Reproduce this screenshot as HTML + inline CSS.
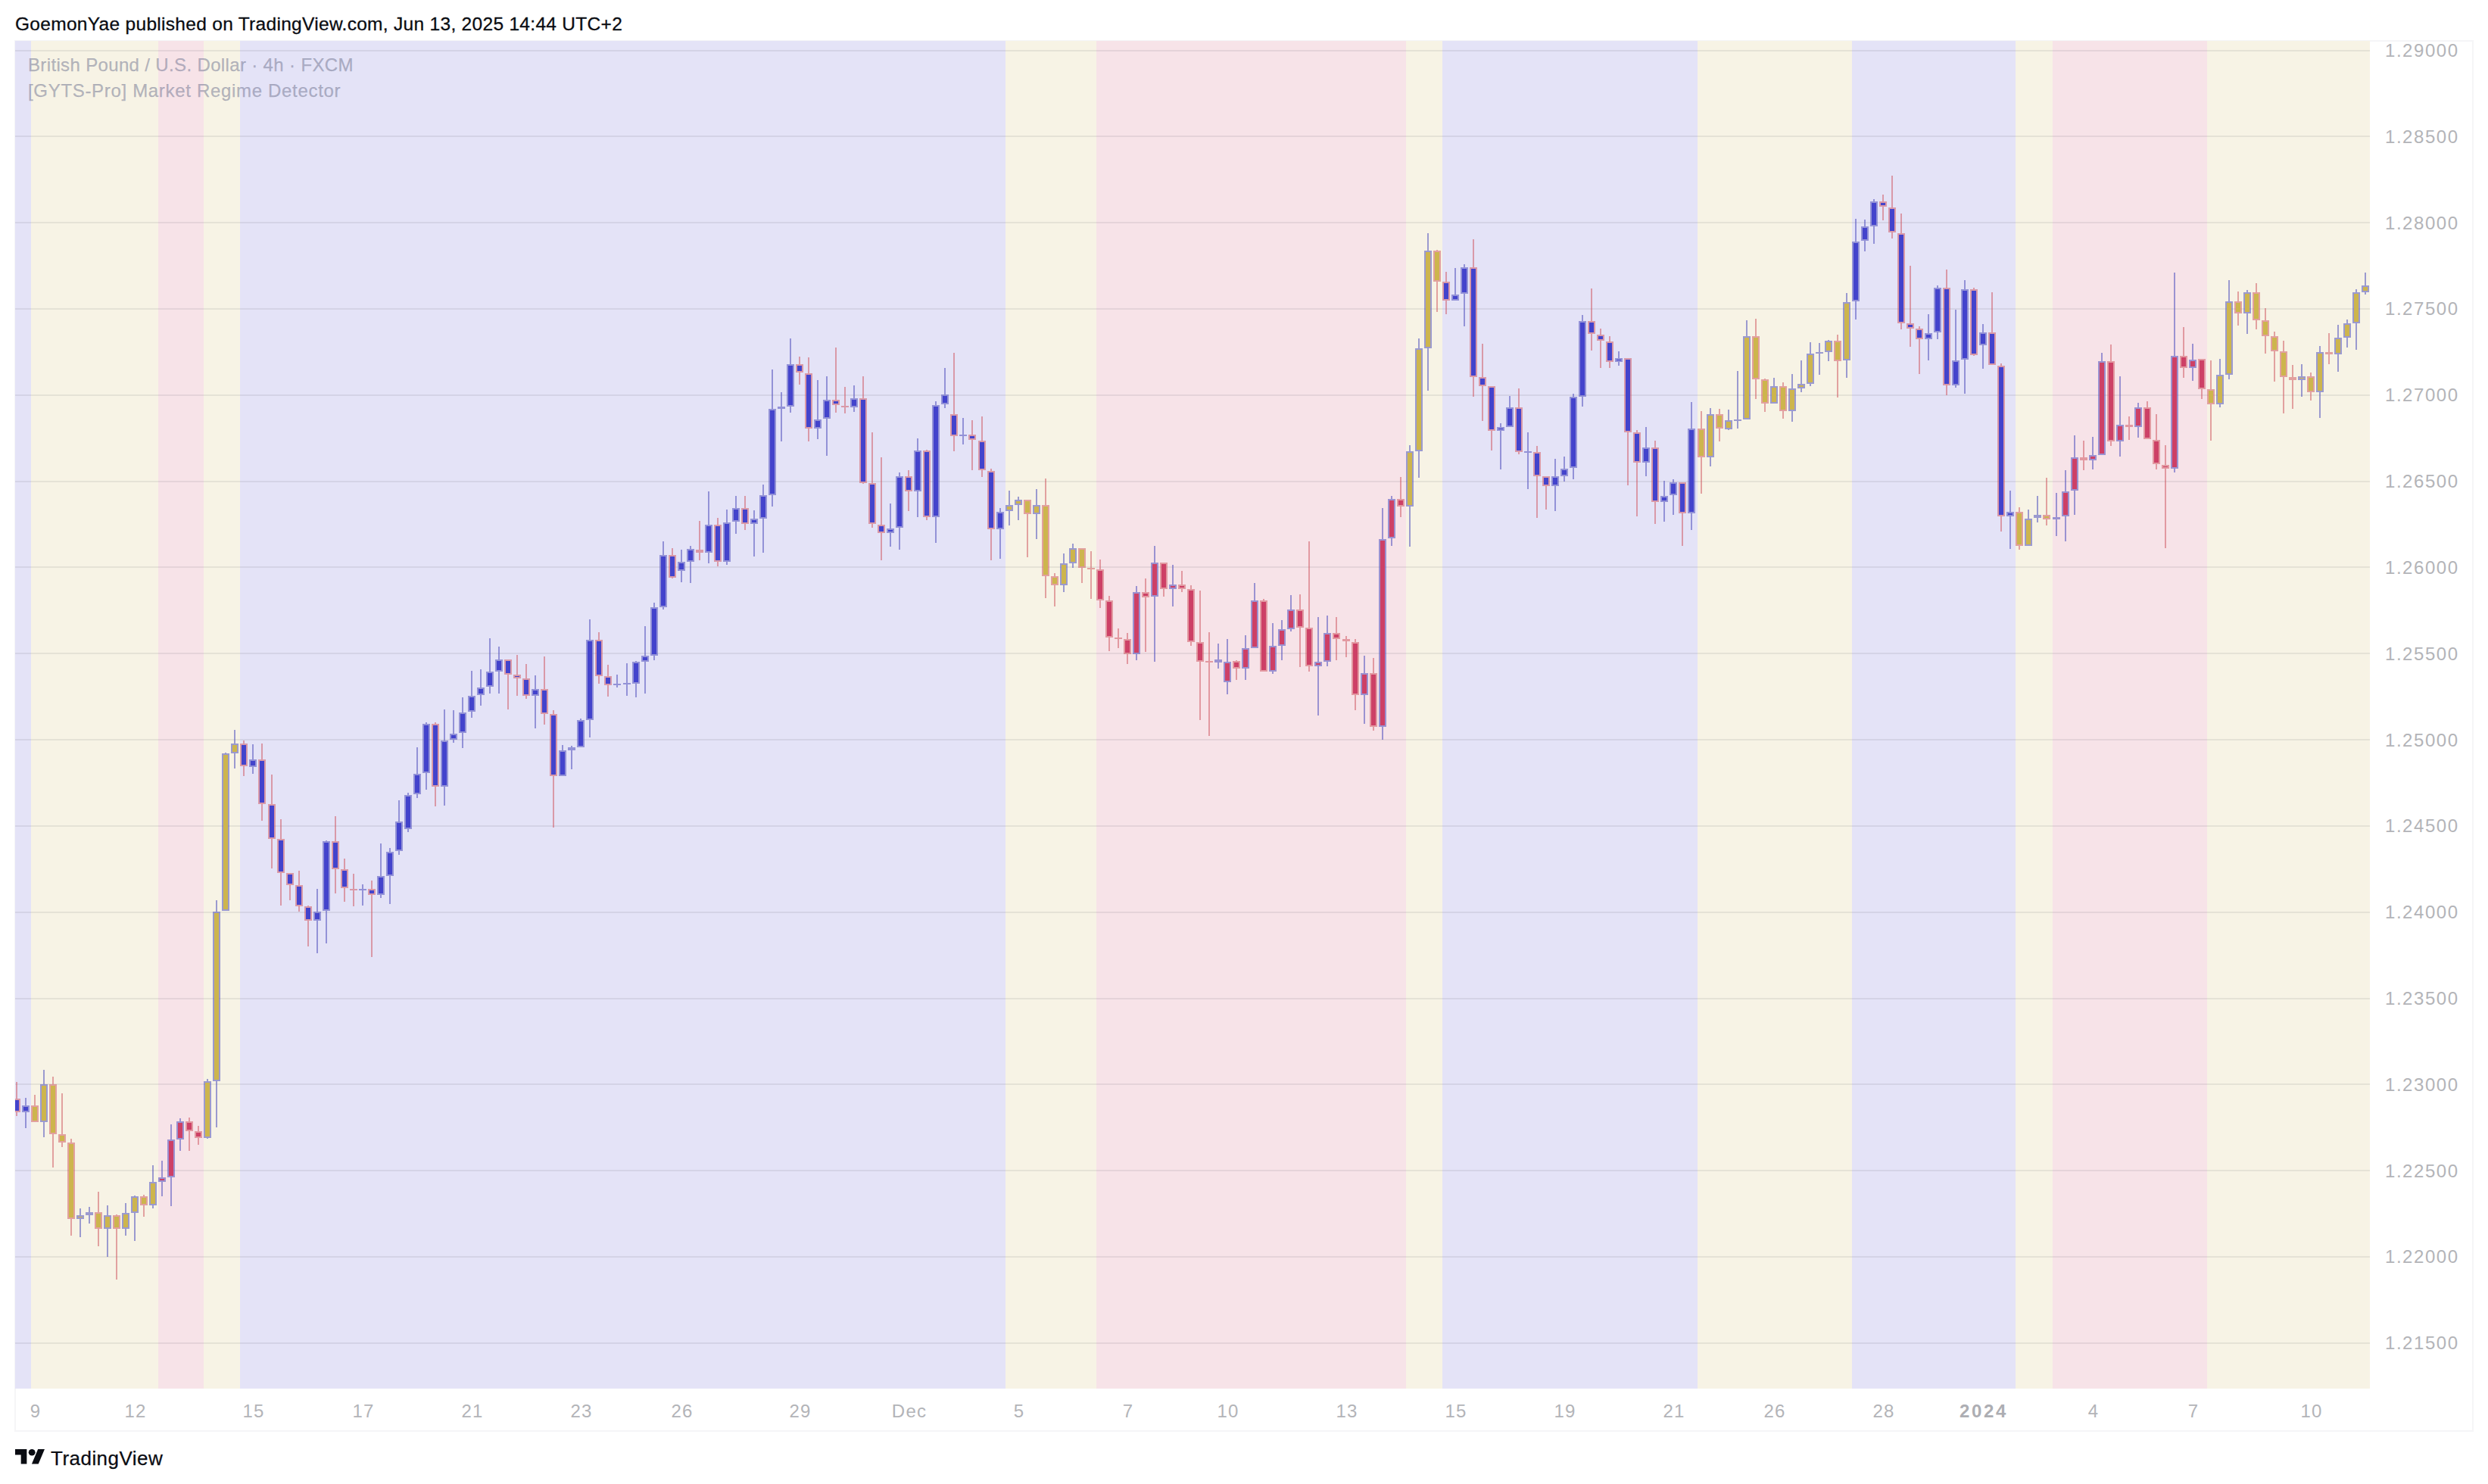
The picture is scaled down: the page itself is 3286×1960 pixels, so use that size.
<!DOCTYPE html>
<html><head><meta charset="utf-8"><title>GBPUSD</title>
<style>
html,body{margin:0;padding:0;background:#fff;}
body{width:3286px;height:1960px;position:relative;overflow:hidden;font-family:"Liberation Sans",sans-serif;}
.hdr{position:absolute;left:20px;top:16.5px;font-size:24.5px;line-height:30px;color:#0a0c12;white-space:nowrap;letter-spacing:0.3px;-webkit-text-stroke:0.3px #0a0c12;}
.frame{position:absolute;left:19px;top:53px;width:3244px;height:1834px;border:2px solid #f5f5f7;box-sizing:content-box;}
.pane{position:absolute;left:20px;top:54px;display:block;}
.lg{position:absolute;left:37px;font-size:24px;line-height:28px;color:rgba(114,118,146,0.5);white-space:nowrap;letter-spacing:0.35px;-webkit-text-stroke:0.25px rgba(114,118,146,0.5);}
.lg2{letter-spacing:0.68px;}
.pl{position:absolute;left:3150px;font-size:24px;line-height:28px;color:#b3b4b8;white-space:nowrap;letter-spacing:1.55px;}
.tl{position:absolute;top:1850px;width:120px;text-align:center;font-size:24px;line-height:28px;color:#b3b4b8;white-space:nowrap;letter-spacing:1.2px;}
.tl.b{font-weight:bold;color:#adaeb3;letter-spacing:2.6px;}
.logo{position:absolute;left:20px;top:1914px;}
.brand{position:absolute;left:67px;top:1909.5px;font-size:26px;line-height:32px;color:#0a0c12;white-space:nowrap;letter-spacing:0.47px;-webkit-text-stroke:0.25px #0a0c12;}
</style></head><body>
<div class="hdr">GoemonYae published on TradingView.com, Jun 13, 2025 14:44 UTC+2</div>
<div class="frame"></div>
<svg class="pane" width="3110" height="1780" viewBox="20 54 3110 1780" shape-rendering="crispEdges">
<rect x="20" y="54" width="21" height="1780" fill="#e4e3f7"/>
<rect x="41" y="54" width="168" height="1780" fill="#f7f3e5"/>
<rect x="209" y="54" width="60" height="1780" fill="#f7e3e8"/>
<rect x="269" y="54" width="48" height="1780" fill="#f7f3e5"/>
<rect x="317" y="54" width="1011" height="1780" fill="#e4e3f7"/>
<rect x="1328" y="54" width="120" height="1780" fill="#f7f3e5"/>
<rect x="1448" y="54" width="409" height="1780" fill="#f7e3e8"/>
<rect x="1857" y="54" width="48" height="1780" fill="#f7f3e5"/>
<rect x="1905" y="54" width="337" height="1780" fill="#e4e3f7"/>
<rect x="2242" y="54" width="204" height="1780" fill="#f7f3e5"/>
<rect x="2446" y="54" width="216" height="1780" fill="#e4e3f7"/>
<rect x="2662" y="54" width="49" height="1780" fill="#f7f3e5"/>
<rect x="2711" y="54" width="204" height="1780" fill="#f7e3e8"/>
<rect x="2915" y="54" width="215" height="1780" fill="#f7f3e5"/>
<rect x="20" y="66" width="3110" height="2" fill="#32323c" fill-opacity="0.088"/>
<rect x="20" y="179" width="3110" height="2" fill="#32323c" fill-opacity="0.088"/>
<rect x="20" y="293" width="3110" height="2" fill="#32323c" fill-opacity="0.088"/>
<rect x="20" y="407" width="3110" height="2" fill="#32323c" fill-opacity="0.088"/>
<rect x="20" y="521" width="3110" height="2" fill="#32323c" fill-opacity="0.088"/>
<rect x="20" y="635" width="3110" height="2" fill="#32323c" fill-opacity="0.088"/>
<rect x="20" y="748" width="3110" height="2" fill="#32323c" fill-opacity="0.088"/>
<rect x="20" y="862" width="3110" height="2" fill="#32323c" fill-opacity="0.088"/>
<rect x="20" y="976" width="3110" height="2" fill="#32323c" fill-opacity="0.088"/>
<rect x="20" y="1090" width="3110" height="2" fill="#32323c" fill-opacity="0.088"/>
<rect x="20" y="1204" width="3110" height="2" fill="#32323c" fill-opacity="0.088"/>
<rect x="20" y="1318" width="3110" height="2" fill="#32323c" fill-opacity="0.088"/>
<rect x="20" y="1431" width="3110" height="2" fill="#32323c" fill-opacity="0.088"/>
<rect x="20" y="1545" width="3110" height="2" fill="#32323c" fill-opacity="0.088"/>
<rect x="20" y="1659" width="3110" height="2" fill="#32323c" fill-opacity="0.088"/>
<rect x="20" y="1773" width="3110" height="2" fill="#32323c" fill-opacity="0.088"/>
<rect x="21" y="1429" width="2" height="22" fill="rgba(205,80,90,0.5)"/>
<rect x="21" y="1469" width="2" height="5" fill="rgba(205,80,90,0.5)"/>
<path d="M17 1451h10v18h-10zM19 1453v14h6v-14z" fill="rgba(205,80,90,0.5)"/>
<rect x="19" y="1453" width="6" height="14" fill="#4343cc"/>
<rect x="33" y="1450" width="2" height="10" fill="rgba(80,80,190,0.55)"/>
<rect x="33" y="1469" width="2" height="21" fill="rgba(80,80,190,0.55)"/>
<path d="M29 1460h10v9h-10zM31 1462v5h6v-5z" fill="rgba(80,80,190,0.55)"/>
<rect x="31" y="1462" width="6" height="5" fill="#4343cc"/>
<rect x="45" y="1446" width="2" height="14" fill="rgba(205,80,90,0.5)"/>
<path d="M41 1460h10v22h-10zM43 1462v18h6v-18z" fill="rgba(205,80,90,0.5)"/>
<rect x="43" y="1462" width="6" height="18" fill="#cdb54d"/>
<rect x="57" y="1413" width="2" height="19" fill="rgba(80,80,190,0.55)"/>
<rect x="57" y="1482" width="2" height="20" fill="rgba(80,80,190,0.55)"/>
<path d="M53 1432h10v50h-10zM55 1434v46h6v-46z" fill="rgba(80,80,190,0.55)"/>
<rect x="55" y="1434" width="6" height="46" fill="#cdb54d"/>
<rect x="69" y="1422" width="2" height="10" fill="rgba(205,80,90,0.5)"/>
<rect x="69" y="1498" width="2" height="44" fill="rgba(205,80,90,0.5)"/>
<path d="M65 1432h10v66h-10zM67 1434v62h6v-62z" fill="rgba(205,80,90,0.5)"/>
<rect x="67" y="1434" width="6" height="62" fill="#cdb54d"/>
<rect x="81" y="1444" width="2" height="54" fill="rgba(205,80,90,0.5)"/>
<rect x="81" y="1509" width="2" height="6" fill="rgba(205,80,90,0.5)"/>
<path d="M77 1498h10v11h-10zM79 1500v7h6v-7z" fill="rgba(205,80,90,0.5)"/>
<rect x="79" y="1500" width="6" height="7" fill="#cdb54d"/>
<rect x="93" y="1504" width="2" height="5" fill="rgba(205,80,90,0.5)"/>
<rect x="93" y="1610" width="2" height="22" fill="rgba(205,80,90,0.5)"/>
<path d="M89 1509h10v101h-10zM91 1511v97h6v-97z" fill="rgba(205,80,90,0.5)"/>
<rect x="91" y="1511" width="6" height="97" fill="#cdb54d"/>
<rect x="105" y="1596" width="2" height="9" fill="rgba(80,80,190,0.55)"/>
<rect x="105" y="1610" width="2" height="24" fill="rgba(80,80,190,0.55)"/>
<path d="M101 1605h10v5h-10zM103 1607v1h6v-1z" fill="rgba(80,80,190,0.55)"/>
<rect x="103" y="1607" width="6" height="1" fill="#cdb54d"/>
<rect x="117" y="1594" width="2" height="7" fill="rgba(80,80,190,0.55)"/>
<rect x="117" y="1605" width="2" height="11" fill="rgba(80,80,190,0.55)"/>
<rect x="113" y="1601" width="10" height="4" fill="rgba(80,80,190,0.55)"/>
<rect x="129" y="1574" width="2" height="27" fill="rgba(205,80,90,0.5)"/>
<rect x="129" y="1623" width="2" height="23" fill="rgba(205,80,90,0.5)"/>
<path d="M125 1601h10v22h-10zM127 1603v18h6v-18z" fill="rgba(205,80,90,0.5)"/>
<rect x="127" y="1603" width="6" height="18" fill="#cdb54d"/>
<rect x="141" y="1592" width="2" height="13" fill="rgba(80,80,190,0.55)"/>
<rect x="141" y="1623" width="2" height="37" fill="rgba(80,80,190,0.55)"/>
<path d="M137 1605h10v18h-10zM139 1607v14h6v-14z" fill="rgba(80,80,190,0.55)"/>
<rect x="139" y="1607" width="6" height="14" fill="#cdb54d"/>
<rect x="153" y="1604" width="2" height="1" fill="rgba(205,80,90,0.5)"/>
<rect x="153" y="1623" width="2" height="67" fill="rgba(205,80,90,0.5)"/>
<path d="M149 1605h10v18h-10zM151 1607v14h6v-14z" fill="rgba(205,80,90,0.5)"/>
<rect x="151" y="1607" width="6" height="14" fill="#cdb54d"/>
<rect x="165" y="1589" width="2" height="13" fill="rgba(80,80,190,0.55)"/>
<rect x="165" y="1623" width="2" height="9" fill="rgba(80,80,190,0.55)"/>
<path d="M161 1602h10v21h-10zM163 1604v17h6v-17z" fill="rgba(80,80,190,0.55)"/>
<rect x="163" y="1604" width="6" height="17" fill="#cdb54d"/>
<rect x="177" y="1579" width="2" height="1" fill="rgba(80,80,190,0.55)"/>
<rect x="177" y="1602" width="2" height="37" fill="rgba(80,80,190,0.55)"/>
<path d="M173 1580h10v22h-10zM175 1582v18h6v-18z" fill="rgba(80,80,190,0.55)"/>
<rect x="175" y="1582" width="6" height="18" fill="#cdb54d"/>
<rect x="189" y="1578" width="2" height="2" fill="rgba(205,80,90,0.5)"/>
<rect x="189" y="1592" width="2" height="15" fill="rgba(205,80,90,0.5)"/>
<path d="M185 1580h10v12h-10zM187 1582v8h6v-8z" fill="rgba(205,80,90,0.5)"/>
<rect x="187" y="1582" width="6" height="8" fill="#cdb54d"/>
<rect x="201" y="1539" width="2" height="22" fill="rgba(80,80,190,0.55)"/>
<rect x="201" y="1592" width="2" height="4" fill="rgba(80,80,190,0.55)"/>
<path d="M197 1561h10v31h-10zM199 1563v27h6v-27z" fill="rgba(80,80,190,0.55)"/>
<rect x="199" y="1563" width="6" height="27" fill="#cdb54d"/>
<rect x="213" y="1533" width="2" height="22" fill="rgba(80,80,190,0.55)"/>
<rect x="213" y="1561" width="2" height="19" fill="rgba(80,80,190,0.55)"/>
<path d="M209 1555h10v6h-10zM211 1557v2h6v-2z" fill="rgba(80,80,190,0.55)"/>
<rect x="211" y="1557" width="6" height="2" fill="#cd4066"/>
<rect x="225" y="1485" width="2" height="20" fill="rgba(80,80,190,0.55)"/>
<rect x="225" y="1555" width="2" height="38" fill="rgba(80,80,190,0.55)"/>
<path d="M221 1505h10v50h-10zM223 1507v46h6v-46z" fill="rgba(80,80,190,0.55)"/>
<rect x="223" y="1507" width="6" height="46" fill="#cd4066"/>
<rect x="237" y="1477" width="2" height="4" fill="rgba(80,80,190,0.55)"/>
<rect x="237" y="1505" width="2" height="15" fill="rgba(80,80,190,0.55)"/>
<path d="M233 1481h10v24h-10zM235 1483v20h6v-20z" fill="rgba(80,80,190,0.55)"/>
<rect x="235" y="1483" width="6" height="20" fill="#cd4066"/>
<rect x="249" y="1476" width="2" height="5" fill="rgba(205,80,90,0.5)"/>
<rect x="249" y="1494" width="2" height="26" fill="rgba(205,80,90,0.5)"/>
<path d="M245 1481h10v13h-10zM247 1483v9h6v-9z" fill="rgba(205,80,90,0.5)"/>
<rect x="247" y="1483" width="6" height="9" fill="#cd4066"/>
<rect x="261" y="1487" width="2" height="7" fill="rgba(205,80,90,0.5)"/>
<rect x="261" y="1503" width="2" height="9" fill="rgba(205,80,90,0.5)"/>
<path d="M257 1494h10v9h-10zM259 1496v5h6v-5z" fill="rgba(205,80,90,0.5)"/>
<rect x="259" y="1496" width="6" height="5" fill="#cd4066"/>
<rect x="273" y="1425" width="2" height="3" fill="rgba(80,80,190,0.55)"/>
<rect x="273" y="1503" width="2" height="1" fill="rgba(80,80,190,0.55)"/>
<path d="M269 1428h10v75h-10zM271 1430v71h6v-71z" fill="rgba(80,80,190,0.55)"/>
<rect x="271" y="1430" width="6" height="71" fill="#cdb54d"/>
<rect x="285" y="1189" width="2" height="15" fill="rgba(80,80,190,0.55)"/>
<rect x="285" y="1428" width="2" height="61" fill="rgba(80,80,190,0.55)"/>
<path d="M281 1204h10v224h-10zM283 1206v220h6v-220z" fill="rgba(80,80,190,0.55)"/>
<rect x="283" y="1206" width="6" height="220" fill="#cdb54d"/>
<rect x="297" y="994" width="2" height="1" fill="rgba(80,80,190,0.55)"/>
<path d="M293 995h10v208h-10zM295 997v204h6v-204z" fill="rgba(80,80,190,0.55)"/>
<rect x="295" y="997" width="6" height="204" fill="#cdb54d"/>
<rect x="309" y="964" width="2" height="18" fill="rgba(80,80,190,0.55)"/>
<rect x="309" y="995" width="2" height="20" fill="rgba(80,80,190,0.55)"/>
<path d="M305 982h10v13h-10zM307 984v9h6v-9z" fill="rgba(80,80,190,0.55)"/>
<rect x="307" y="984" width="6" height="9" fill="#cdb54d"/>
<rect x="321" y="978" width="2" height="4" fill="rgba(205,80,90,0.5)"/>
<rect x="321" y="1012" width="2" height="13" fill="rgba(205,80,90,0.5)"/>
<path d="M317 982h10v30h-10zM319 984v26h6v-26z" fill="rgba(205,80,90,0.5)"/>
<rect x="319" y="984" width="6" height="26" fill="#4343cc"/>
<rect x="333" y="983" width="2" height="20" fill="rgba(80,80,190,0.55)"/>
<rect x="333" y="1013" width="2" height="9" fill="rgba(80,80,190,0.55)"/>
<path d="M329 1003h10v10h-10zM331 1005v6h6v-6z" fill="rgba(80,80,190,0.55)"/>
<rect x="331" y="1005" width="6" height="6" fill="#4343cc"/>
<rect x="345" y="982" width="2" height="21" fill="rgba(205,80,90,0.5)"/>
<rect x="345" y="1062" width="2" height="22" fill="rgba(205,80,90,0.5)"/>
<path d="M341 1003h10v59h-10zM343 1005v55h6v-55z" fill="rgba(205,80,90,0.5)"/>
<rect x="343" y="1005" width="6" height="55" fill="#4343cc"/>
<rect x="358" y="1023" width="2" height="39" fill="rgba(205,80,90,0.5)"/>
<rect x="358" y="1108" width="2" height="39" fill="rgba(205,80,90,0.5)"/>
<path d="M354 1062h10v46h-10zM356 1064v42h6v-42z" fill="rgba(205,80,90,0.5)"/>
<rect x="356" y="1064" width="6" height="42" fill="#4343cc"/>
<rect x="370" y="1082" width="2" height="26" fill="rgba(205,80,90,0.5)"/>
<rect x="370" y="1153" width="2" height="43" fill="rgba(205,80,90,0.5)"/>
<path d="M366 1108h10v45h-10zM368 1110v41h6v-41z" fill="rgba(205,80,90,0.5)"/>
<rect x="368" y="1110" width="6" height="41" fill="#4343cc"/>
<rect x="382" y="1169" width="2" height="20" fill="rgba(205,80,90,0.5)"/>
<path d="M378 1153h10v16h-10zM380 1155v12h6v-12z" fill="rgba(205,80,90,0.5)"/>
<rect x="380" y="1155" width="6" height="12" fill="#4343cc"/>
<rect x="394" y="1150" width="2" height="19" fill="rgba(205,80,90,0.5)"/>
<rect x="394" y="1197" width="2" height="7" fill="rgba(205,80,90,0.5)"/>
<path d="M390 1169h10v28h-10zM392 1171v24h6v-24z" fill="rgba(205,80,90,0.5)"/>
<rect x="392" y="1171" width="6" height="24" fill="#4343cc"/>
<rect x="406" y="1196" width="2" height="1" fill="rgba(205,80,90,0.5)"/>
<rect x="406" y="1216" width="2" height="34" fill="rgba(205,80,90,0.5)"/>
<path d="M402 1197h10v19h-10zM404 1199v15h6v-15z" fill="rgba(205,80,90,0.5)"/>
<rect x="404" y="1199" width="6" height="15" fill="#4343cc"/>
<rect x="418" y="1174" width="2" height="30" fill="rgba(80,80,190,0.55)"/>
<rect x="418" y="1216" width="2" height="43" fill="rgba(80,80,190,0.55)"/>
<path d="M414 1204h10v12h-10zM416 1206v8h6v-8z" fill="rgba(80,80,190,0.55)"/>
<rect x="416" y="1206" width="6" height="8" fill="#4343cc"/>
<rect x="430" y="1110" width="2" height="1" fill="rgba(80,80,190,0.55)"/>
<rect x="430" y="1203" width="2" height="43" fill="rgba(80,80,190,0.55)"/>
<path d="M426 1111h10v92h-10zM428 1113v88h6v-88z" fill="rgba(80,80,190,0.55)"/>
<rect x="428" y="1113" width="6" height="88" fill="#4343cc"/>
<rect x="442" y="1078" width="2" height="33" fill="rgba(205,80,90,0.5)"/>
<rect x="442" y="1148" width="2" height="32" fill="rgba(205,80,90,0.5)"/>
<path d="M438 1111h10v37h-10zM440 1113v33h6v-33z" fill="rgba(205,80,90,0.5)"/>
<rect x="440" y="1113" width="6" height="33" fill="#4343cc"/>
<rect x="454" y="1134" width="2" height="14" fill="rgba(205,80,90,0.5)"/>
<rect x="454" y="1173" width="2" height="18" fill="rgba(205,80,90,0.5)"/>
<path d="M450 1148h10v25h-10zM452 1150v21h6v-21z" fill="rgba(205,80,90,0.5)"/>
<rect x="452" y="1150" width="6" height="21" fill="#4343cc"/>
<rect x="466" y="1154" width="2" height="20" fill="rgba(205,80,90,0.5)"/>
<rect x="466" y="1176" width="2" height="21" fill="rgba(205,80,90,0.5)"/>
<rect x="462" y="1174" width="10" height="2" fill="rgba(205,80,90,0.5)"/>
<rect x="478" y="1168" width="2" height="6" fill="rgba(80,80,190,0.55)"/>
<rect x="478" y="1176" width="2" height="20" fill="rgba(80,80,190,0.55)"/>
<rect x="474" y="1174" width="10" height="2" fill="rgba(80,80,190,0.55)"/>
<rect x="490" y="1163" width="2" height="11" fill="rgba(205,80,90,0.5)"/>
<rect x="490" y="1182" width="2" height="82" fill="rgba(205,80,90,0.5)"/>
<path d="M486 1174h10v8h-10zM488 1176v4h6v-4z" fill="rgba(205,80,90,0.5)"/>
<rect x="488" y="1176" width="6" height="4" fill="#4343cc"/>
<rect x="502" y="1114" width="2" height="43" fill="rgba(80,80,190,0.55)"/>
<rect x="502" y="1182" width="2" height="4" fill="rgba(80,80,190,0.55)"/>
<path d="M498 1157h10v25h-10zM500 1159v21h6v-21z" fill="rgba(80,80,190,0.55)"/>
<rect x="500" y="1159" width="6" height="21" fill="#4343cc"/>
<rect x="514" y="1120" width="2" height="5" fill="rgba(80,80,190,0.55)"/>
<rect x="514" y="1157" width="2" height="37" fill="rgba(80,80,190,0.55)"/>
<path d="M510 1125h10v32h-10zM512 1127v28h6v-28z" fill="rgba(80,80,190,0.55)"/>
<rect x="512" y="1127" width="6" height="28" fill="#4343cc"/>
<rect x="526" y="1057" width="2" height="28" fill="rgba(80,80,190,0.55)"/>
<rect x="526" y="1124" width="2" height="5" fill="rgba(80,80,190,0.55)"/>
<path d="M522 1085h10v39h-10zM524 1087v35h6v-35z" fill="rgba(80,80,190,0.55)"/>
<rect x="524" y="1087" width="6" height="35" fill="#4343cc"/>
<rect x="538" y="1047" width="2" height="3" fill="rgba(80,80,190,0.55)"/>
<rect x="538" y="1095" width="2" height="4" fill="rgba(80,80,190,0.55)"/>
<path d="M534 1050h10v45h-10zM536 1052v41h6v-41z" fill="rgba(80,80,190,0.55)"/>
<rect x="536" y="1052" width="6" height="41" fill="#4343cc"/>
<rect x="550" y="987" width="2" height="35" fill="rgba(80,80,190,0.55)"/>
<rect x="550" y="1049" width="2" height="5" fill="rgba(80,80,190,0.55)"/>
<path d="M546 1022h10v27h-10zM548 1024v23h6v-23z" fill="rgba(80,80,190,0.55)"/>
<rect x="548" y="1024" width="6" height="23" fill="#4343cc"/>
<rect x="562" y="954" width="2" height="2" fill="rgba(80,80,190,0.55)"/>
<rect x="562" y="1021" width="2" height="22" fill="rgba(80,80,190,0.55)"/>
<path d="M558 956h10v65h-10zM560 958v61h6v-61z" fill="rgba(80,80,190,0.55)"/>
<rect x="560" y="958" width="6" height="61" fill="#4343cc"/>
<rect x="574" y="954" width="2" height="2" fill="rgba(205,80,90,0.5)"/>
<rect x="574" y="1039" width="2" height="26" fill="rgba(205,80,90,0.5)"/>
<path d="M570 956h10v83h-10zM572 958v79h6v-79z" fill="rgba(205,80,90,0.5)"/>
<rect x="572" y="958" width="6" height="79" fill="#4343cc"/>
<rect x="586" y="937" width="2" height="41" fill="rgba(80,80,190,0.55)"/>
<rect x="586" y="1039" width="2" height="25" fill="rgba(80,80,190,0.55)"/>
<path d="M582 978h10v61h-10zM584 980v57h6v-57z" fill="rgba(80,80,190,0.55)"/>
<rect x="584" y="980" width="6" height="57" fill="#4343cc"/>
<rect x="598" y="938" width="2" height="31" fill="rgba(80,80,190,0.55)"/>
<rect x="598" y="977" width="2" height="4" fill="rgba(80,80,190,0.55)"/>
<path d="M594 969h10v8h-10zM596 971v4h6v-4z" fill="rgba(80,80,190,0.55)"/>
<rect x="596" y="971" width="6" height="4" fill="#4343cc"/>
<rect x="610" y="921" width="2" height="20" fill="rgba(80,80,190,0.55)"/>
<rect x="610" y="968" width="2" height="20" fill="rgba(80,80,190,0.55)"/>
<path d="M606 941h10v27h-10zM608 943v23h6v-23z" fill="rgba(80,80,190,0.55)"/>
<rect x="608" y="943" width="6" height="23" fill="#4343cc"/>
<rect x="622" y="886" width="2" height="33" fill="rgba(80,80,190,0.55)"/>
<rect x="622" y="940" width="2" height="8" fill="rgba(80,80,190,0.55)"/>
<path d="M618 919h10v21h-10zM620 921v17h6v-17z" fill="rgba(80,80,190,0.55)"/>
<rect x="620" y="921" width="6" height="17" fill="#4343cc"/>
<rect x="634" y="884" width="2" height="24" fill="rgba(80,80,190,0.55)"/>
<rect x="634" y="918" width="2" height="14" fill="rgba(80,80,190,0.55)"/>
<path d="M630 908h10v10h-10zM632 910v6h6v-6z" fill="rgba(80,80,190,0.55)"/>
<rect x="632" y="910" width="6" height="6" fill="#4343cc"/>
<rect x="646" y="843" width="2" height="44" fill="rgba(80,80,190,0.55)"/>
<rect x="646" y="907" width="2" height="9" fill="rgba(80,80,190,0.55)"/>
<path d="M642 887h10v20h-10zM644 889v16h6v-16z" fill="rgba(80,80,190,0.55)"/>
<rect x="644" y="889" width="6" height="16" fill="#4343cc"/>
<rect x="658" y="854" width="2" height="17" fill="rgba(80,80,190,0.55)"/>
<rect x="658" y="887" width="2" height="29" fill="rgba(80,80,190,0.55)"/>
<path d="M654 871h10v16h-10zM656 873v12h6v-12z" fill="rgba(80,80,190,0.55)"/>
<rect x="656" y="873" width="6" height="12" fill="#4343cc"/>
<rect x="670" y="891" width="2" height="46" fill="rgba(205,80,90,0.5)"/>
<path d="M666 871h10v20h-10zM668 873v16h6v-16z" fill="rgba(205,80,90,0.5)"/>
<rect x="668" y="873" width="6" height="16" fill="#4343cc"/>
<rect x="682" y="865" width="2" height="26" fill="rgba(205,80,90,0.5)"/>
<rect x="682" y="896" width="2" height="23" fill="rgba(205,80,90,0.5)"/>
<path d="M678 891h10v5h-10zM680 893v1h6v-1z" fill="rgba(205,80,90,0.5)"/>
<rect x="680" y="893" width="6" height="1" fill="#4343cc"/>
<rect x="694" y="877" width="2" height="19" fill="rgba(205,80,90,0.5)"/>
<rect x="694" y="919" width="2" height="4" fill="rgba(205,80,90,0.5)"/>
<path d="M690 896h10v23h-10zM692 898v19h6v-19z" fill="rgba(205,80,90,0.5)"/>
<rect x="692" y="898" width="6" height="19" fill="#4343cc"/>
<rect x="706" y="892" width="2" height="18" fill="rgba(80,80,190,0.55)"/>
<rect x="706" y="919" width="2" height="43" fill="rgba(80,80,190,0.55)"/>
<path d="M702 910h10v9h-10zM704 912v5h6v-5z" fill="rgba(80,80,190,0.55)"/>
<rect x="704" y="912" width="6" height="5" fill="#4343cc"/>
<rect x="718" y="867" width="2" height="43" fill="rgba(205,80,90,0.5)"/>
<rect x="718" y="943" width="2" height="14" fill="rgba(205,80,90,0.5)"/>
<path d="M714 910h10v33h-10zM716 912v29h6v-29z" fill="rgba(205,80,90,0.5)"/>
<rect x="716" y="912" width="6" height="29" fill="#4343cc"/>
<rect x="730" y="938" width="2" height="5" fill="rgba(205,80,90,0.5)"/>
<rect x="730" y="1025" width="2" height="68" fill="rgba(205,80,90,0.5)"/>
<path d="M726 943h10v82h-10zM728 945v78h6v-78z" fill="rgba(205,80,90,0.5)"/>
<rect x="728" y="945" width="6" height="78" fill="#4343cc"/>
<rect x="742" y="984" width="2" height="7" fill="rgba(80,80,190,0.55)"/>
<path d="M738 991h10v34h-10zM740 993v30h6v-30z" fill="rgba(80,80,190,0.55)"/>
<rect x="740" y="993" width="6" height="30" fill="#4343cc"/>
<rect x="754" y="985" width="2" height="2" fill="rgba(80,80,190,0.55)"/>
<rect x="754" y="991" width="2" height="25" fill="rgba(80,80,190,0.55)"/>
<rect x="750" y="987" width="10" height="4" fill="rgba(80,80,190,0.55)"/>
<rect x="766" y="949" width="2" height="2" fill="rgba(80,80,190,0.55)"/>
<path d="M762 951h10v36h-10zM764 953v32h6v-32z" fill="rgba(80,80,190,0.55)"/>
<rect x="764" y="953" width="6" height="32" fill="#4343cc"/>
<rect x="778" y="818" width="2" height="27" fill="rgba(80,80,190,0.55)"/>
<rect x="778" y="951" width="2" height="23" fill="rgba(80,80,190,0.55)"/>
<path d="M774 845h10v106h-10zM776 847v102h6v-102z" fill="rgba(80,80,190,0.55)"/>
<rect x="776" y="847" width="6" height="102" fill="#4343cc"/>
<rect x="790" y="835" width="2" height="10" fill="rgba(205,80,90,0.5)"/>
<rect x="790" y="893" width="2" height="10" fill="rgba(205,80,90,0.5)"/>
<path d="M786 845h10v48h-10zM788 847v44h6v-44z" fill="rgba(205,80,90,0.5)"/>
<rect x="788" y="847" width="6" height="44" fill="#4343cc"/>
<rect x="802" y="878" width="2" height="15" fill="rgba(205,80,90,0.5)"/>
<rect x="802" y="905" width="2" height="15" fill="rgba(205,80,90,0.5)"/>
<path d="M798 893h10v12h-10zM800 895v8h6v-8z" fill="rgba(205,80,90,0.5)"/>
<rect x="800" y="895" width="6" height="8" fill="#4343cc"/>
<rect x="814" y="891" width="2" height="12" fill="rgba(80,80,190,0.55)"/>
<rect x="814" y="905" width="2" height="3" fill="rgba(80,80,190,0.55)"/>
<rect x="810" y="903" width="10" height="2" fill="rgba(80,80,190,0.55)"/>
<rect x="827" y="876" width="2" height="26" fill="rgba(80,80,190,0.55)"/>
<rect x="827" y="904" width="2" height="15" fill="rgba(80,80,190,0.55)"/>
<rect x="823" y="902" width="10" height="2" fill="rgba(80,80,190,0.55)"/>
<rect x="839" y="873" width="2" height="1" fill="rgba(80,80,190,0.55)"/>
<rect x="839" y="903" width="2" height="18" fill="rgba(80,80,190,0.55)"/>
<path d="M835 874h10v29h-10zM837 876v25h6v-25z" fill="rgba(80,80,190,0.55)"/>
<rect x="837" y="876" width="6" height="25" fill="#4343cc"/>
<rect x="851" y="827" width="2" height="39" fill="rgba(80,80,190,0.55)"/>
<rect x="851" y="874" width="2" height="42" fill="rgba(80,80,190,0.55)"/>
<path d="M847 866h10v8h-10zM849 868v4h6v-4z" fill="rgba(80,80,190,0.55)"/>
<rect x="849" y="868" width="6" height="4" fill="#4343cc"/>
<rect x="863" y="796" width="2" height="6" fill="rgba(80,80,190,0.55)"/>
<rect x="863" y="866" width="2" height="6" fill="rgba(80,80,190,0.55)"/>
<path d="M859 802h10v64h-10zM861 804v60h6v-60z" fill="rgba(80,80,190,0.55)"/>
<rect x="861" y="804" width="6" height="60" fill="#4343cc"/>
<rect x="875" y="715" width="2" height="18" fill="rgba(80,80,190,0.55)"/>
<rect x="875" y="802" width="2" height="3" fill="rgba(80,80,190,0.55)"/>
<path d="M871 733h10v69h-10zM873 735v65h6v-65z" fill="rgba(80,80,190,0.55)"/>
<rect x="873" y="735" width="6" height="65" fill="#4343cc"/>
<rect x="887" y="724" width="2" height="9" fill="rgba(205,80,90,0.5)"/>
<rect x="887" y="763" width="2" height="1" fill="rgba(205,80,90,0.5)"/>
<path d="M883 733h10v30h-10zM885 735v26h6v-26z" fill="rgba(205,80,90,0.5)"/>
<rect x="885" y="735" width="6" height="26" fill="#4343cc"/>
<rect x="899" y="726" width="2" height="16" fill="rgba(80,80,190,0.55)"/>
<rect x="899" y="754" width="2" height="15" fill="rgba(80,80,190,0.55)"/>
<path d="M895 742h10v12h-10zM897 744v8h6v-8z" fill="rgba(80,80,190,0.55)"/>
<rect x="897" y="744" width="6" height="8" fill="#4343cc"/>
<rect x="911" y="721" width="2" height="4" fill="rgba(80,80,190,0.55)"/>
<rect x="911" y="742" width="2" height="28" fill="rgba(80,80,190,0.55)"/>
<path d="M907 725h10v17h-10zM909 727v13h6v-13z" fill="rgba(80,80,190,0.55)"/>
<rect x="909" y="727" width="6" height="13" fill="#4343cc"/>
<rect x="923" y="688" width="2" height="38" fill="rgba(205,80,90,0.5)"/>
<rect x="923" y="730" width="2" height="10" fill="rgba(205,80,90,0.5)"/>
<rect x="919" y="726" width="10" height="4" fill="rgba(205,80,90,0.5)"/>
<rect x="935" y="649" width="2" height="44" fill="rgba(80,80,190,0.55)"/>
<rect x="935" y="730" width="2" height="14" fill="rgba(80,80,190,0.55)"/>
<path d="M931 693h10v37h-10zM933 695v33h6v-33z" fill="rgba(80,80,190,0.55)"/>
<rect x="933" y="695" width="6" height="33" fill="#4343cc"/>
<rect x="947" y="684" width="2" height="9" fill="rgba(205,80,90,0.5)"/>
<rect x="947" y="742" width="2" height="6" fill="rgba(205,80,90,0.5)"/>
<path d="M943 693h10v49h-10zM945 695v45h6v-45z" fill="rgba(205,80,90,0.5)"/>
<rect x="945" y="695" width="6" height="45" fill="#4343cc"/>
<rect x="959" y="673" width="2" height="17" fill="rgba(80,80,190,0.55)"/>
<rect x="959" y="742" width="2" height="4" fill="rgba(80,80,190,0.55)"/>
<path d="M955 690h10v52h-10zM957 692v48h6v-48z" fill="rgba(80,80,190,0.55)"/>
<rect x="957" y="692" width="6" height="48" fill="#4343cc"/>
<rect x="971" y="655" width="2" height="16" fill="rgba(80,80,190,0.55)"/>
<rect x="971" y="689" width="2" height="16" fill="rgba(80,80,190,0.55)"/>
<path d="M967 671h10v18h-10zM969 673v14h6v-14z" fill="rgba(80,80,190,0.55)"/>
<rect x="969" y="673" width="6" height="14" fill="#4343cc"/>
<rect x="983" y="655" width="2" height="16" fill="rgba(205,80,90,0.5)"/>
<rect x="983" y="692" width="2" height="8" fill="rgba(205,80,90,0.5)"/>
<path d="M979 671h10v21h-10zM981 673v17h6v-17z" fill="rgba(205,80,90,0.5)"/>
<rect x="981" y="673" width="6" height="17" fill="#4343cc"/>
<rect x="995" y="674" width="2" height="11" fill="rgba(80,80,190,0.55)"/>
<rect x="995" y="692" width="2" height="43" fill="rgba(80,80,190,0.55)"/>
<path d="M991 685h10v7h-10zM993 687v3h6v-3z" fill="rgba(80,80,190,0.55)"/>
<rect x="993" y="687" width="6" height="3" fill="#4343cc"/>
<rect x="1007" y="640" width="2" height="14" fill="rgba(80,80,190,0.55)"/>
<rect x="1007" y="685" width="2" height="45" fill="rgba(80,80,190,0.55)"/>
<path d="M1003 654h10v31h-10zM1005 656v27h6v-27z" fill="rgba(80,80,190,0.55)"/>
<rect x="1005" y="656" width="6" height="27" fill="#4343cc"/>
<rect x="1019" y="488" width="2" height="52" fill="rgba(80,80,190,0.55)"/>
<rect x="1019" y="654" width="2" height="15" fill="rgba(80,80,190,0.55)"/>
<path d="M1015 540h10v114h-10zM1017 542v110h6v-110z" fill="rgba(80,80,190,0.55)"/>
<rect x="1017" y="542" width="6" height="110" fill="#4343cc"/>
<rect x="1031" y="518" width="2" height="19" fill="rgba(80,80,190,0.55)"/>
<rect x="1031" y="540" width="2" height="43" fill="rgba(80,80,190,0.55)"/>
<rect x="1027" y="537" width="10" height="3" fill="rgba(80,80,190,0.55)"/>
<rect x="1043" y="447" width="2" height="34" fill="rgba(80,80,190,0.55)"/>
<rect x="1043" y="537" width="2" height="8" fill="rgba(80,80,190,0.55)"/>
<path d="M1039 481h10v56h-10zM1041 483v52h6v-52z" fill="rgba(80,80,190,0.55)"/>
<rect x="1041" y="483" width="6" height="52" fill="#4343cc"/>
<rect x="1055" y="471" width="2" height="10" fill="rgba(205,80,90,0.5)"/>
<rect x="1055" y="492" width="2" height="16" fill="rgba(205,80,90,0.5)"/>
<path d="M1051 481h10v11h-10zM1053 483v7h6v-7z" fill="rgba(205,80,90,0.5)"/>
<rect x="1053" y="483" width="6" height="7" fill="#4343cc"/>
<rect x="1067" y="472" width="2" height="21" fill="rgba(205,80,90,0.5)"/>
<rect x="1067" y="566" width="2" height="17" fill="rgba(205,80,90,0.5)"/>
<path d="M1063 493h10v73h-10zM1065 495v69h6v-69z" fill="rgba(205,80,90,0.5)"/>
<rect x="1065" y="495" width="6" height="69" fill="#4343cc"/>
<rect x="1079" y="502" width="2" height="52" fill="rgba(80,80,190,0.55)"/>
<rect x="1079" y="566" width="2" height="14" fill="rgba(80,80,190,0.55)"/>
<path d="M1075 554h10v12h-10zM1077 556v8h6v-8z" fill="rgba(80,80,190,0.55)"/>
<rect x="1077" y="556" width="6" height="8" fill="#4343cc"/>
<rect x="1091" y="497" width="2" height="31" fill="rgba(80,80,190,0.55)"/>
<rect x="1091" y="553" width="2" height="49" fill="rgba(80,80,190,0.55)"/>
<path d="M1087 528h10v25h-10zM1089 530v21h6v-21z" fill="rgba(80,80,190,0.55)"/>
<rect x="1089" y="530" width="6" height="21" fill="#4343cc"/>
<rect x="1103" y="459" width="2" height="69" fill="rgba(205,80,90,0.5)"/>
<rect x="1103" y="535" width="2" height="10" fill="rgba(205,80,90,0.5)"/>
<path d="M1099 528h10v7h-10zM1101 530v3h6v-3z" fill="rgba(205,80,90,0.5)"/>
<rect x="1101" y="530" width="6" height="3" fill="#4343cc"/>
<rect x="1115" y="511" width="2" height="25" fill="rgba(205,80,90,0.5)"/>
<rect x="1115" y="538" width="2" height="8" fill="rgba(205,80,90,0.5)"/>
<rect x="1111" y="536" width="10" height="2" fill="rgba(205,80,90,0.5)"/>
<rect x="1127" y="509" width="2" height="17" fill="rgba(80,80,190,0.55)"/>
<rect x="1127" y="538" width="2" height="6" fill="rgba(80,80,190,0.55)"/>
<path d="M1123 526h10v12h-10zM1125 528v8h6v-8z" fill="rgba(80,80,190,0.55)"/>
<rect x="1125" y="528" width="6" height="8" fill="#4343cc"/>
<rect x="1139" y="497" width="2" height="29" fill="rgba(205,80,90,0.5)"/>
<rect x="1139" y="638" width="2" height="1" fill="rgba(205,80,90,0.5)"/>
<path d="M1135 526h10v112h-10zM1137 528v108h6v-108z" fill="rgba(205,80,90,0.5)"/>
<rect x="1137" y="528" width="6" height="108" fill="#4343cc"/>
<rect x="1151" y="571" width="2" height="67" fill="rgba(205,80,90,0.5)"/>
<rect x="1151" y="692" width="2" height="5" fill="rgba(205,80,90,0.5)"/>
<path d="M1147 638h10v54h-10zM1149 640v50h6v-50z" fill="rgba(205,80,90,0.5)"/>
<rect x="1149" y="640" width="6" height="50" fill="#4343cc"/>
<rect x="1163" y="604" width="2" height="89" fill="rgba(205,80,90,0.5)"/>
<rect x="1163" y="704" width="2" height="36" fill="rgba(205,80,90,0.5)"/>
<path d="M1159 693h10v11h-10zM1161 695v7h6v-7z" fill="rgba(205,80,90,0.5)"/>
<rect x="1161" y="695" width="6" height="7" fill="#4343cc"/>
<rect x="1175" y="665" width="2" height="33" fill="rgba(80,80,190,0.55)"/>
<rect x="1175" y="704" width="2" height="18" fill="rgba(80,80,190,0.55)"/>
<path d="M1171 698h10v6h-10zM1173 700v2h6v-2z" fill="rgba(80,80,190,0.55)"/>
<rect x="1173" y="700" width="6" height="2" fill="#4343cc"/>
<rect x="1187" y="624" width="2" height="5" fill="rgba(80,80,190,0.55)"/>
<rect x="1187" y="697" width="2" height="29" fill="rgba(80,80,190,0.55)"/>
<path d="M1183 629h10v68h-10zM1185 631v64h6v-64z" fill="rgba(80,80,190,0.55)"/>
<rect x="1185" y="631" width="6" height="64" fill="#4343cc"/>
<rect x="1199" y="621" width="2" height="8" fill="rgba(205,80,90,0.5)"/>
<rect x="1199" y="649" width="2" height="26" fill="rgba(205,80,90,0.5)"/>
<path d="M1195 629h10v20h-10zM1197 631v16h6v-16z" fill="rgba(205,80,90,0.5)"/>
<rect x="1197" y="631" width="6" height="16" fill="#4343cc"/>
<rect x="1211" y="579" width="2" height="16" fill="rgba(80,80,190,0.55)"/>
<rect x="1211" y="649" width="2" height="34" fill="rgba(80,80,190,0.55)"/>
<path d="M1207 595h10v54h-10zM1209 597v50h6v-50z" fill="rgba(80,80,190,0.55)"/>
<rect x="1209" y="597" width="6" height="50" fill="#4343cc"/>
<rect x="1223" y="594" width="2" height="1" fill="rgba(205,80,90,0.5)"/>
<rect x="1223" y="683" width="2" height="4" fill="rgba(205,80,90,0.5)"/>
<path d="M1219 595h10v88h-10zM1221 597v84h6v-84z" fill="rgba(205,80,90,0.5)"/>
<rect x="1221" y="597" width="6" height="84" fill="#4343cc"/>
<rect x="1235" y="530" width="2" height="5" fill="rgba(80,80,190,0.55)"/>
<rect x="1235" y="683" width="2" height="34" fill="rgba(80,80,190,0.55)"/>
<path d="M1231 535h10v148h-10zM1233 537v144h6v-144z" fill="rgba(80,80,190,0.55)"/>
<rect x="1233" y="537" width="6" height="144" fill="#4343cc"/>
<rect x="1247" y="486" width="2" height="35" fill="rgba(80,80,190,0.55)"/>
<rect x="1247" y="534" width="2" height="5" fill="rgba(80,80,190,0.55)"/>
<path d="M1243 521h10v13h-10zM1245 523v9h6v-9z" fill="rgba(80,80,190,0.55)"/>
<rect x="1245" y="523" width="6" height="9" fill="#4343cc"/>
<rect x="1259" y="466" width="2" height="81" fill="rgba(205,80,90,0.5)"/>
<rect x="1259" y="576" width="2" height="20" fill="rgba(205,80,90,0.5)"/>
<path d="M1255 547h10v29h-10zM1257 549v25h6v-25z" fill="rgba(205,80,90,0.5)"/>
<rect x="1257" y="549" width="6" height="25" fill="#4343cc"/>
<rect x="1271" y="552" width="2" height="22" fill="rgba(80,80,190,0.55)"/>
<rect x="1271" y="576" width="2" height="11" fill="rgba(80,80,190,0.55)"/>
<rect x="1267" y="574" width="10" height="2" fill="rgba(80,80,190,0.55)"/>
<rect x="1283" y="555" width="2" height="19" fill="rgba(205,80,90,0.5)"/>
<rect x="1283" y="581" width="2" height="40" fill="rgba(205,80,90,0.5)"/>
<path d="M1279 574h10v7h-10zM1281 576v3h6v-3z" fill="rgba(205,80,90,0.5)"/>
<rect x="1281" y="576" width="6" height="3" fill="#4343cc"/>
<rect x="1296" y="550" width="2" height="32" fill="rgba(205,80,90,0.5)"/>
<rect x="1296" y="621" width="2" height="9" fill="rgba(205,80,90,0.5)"/>
<path d="M1292 582h10v39h-10zM1294 584v35h6v-35z" fill="rgba(205,80,90,0.5)"/>
<rect x="1294" y="584" width="6" height="35" fill="#4343cc"/>
<rect x="1308" y="619" width="2" height="3" fill="rgba(205,80,90,0.5)"/>
<rect x="1308" y="699" width="2" height="41" fill="rgba(205,80,90,0.5)"/>
<path d="M1304 622h10v77h-10zM1306 624v73h6v-73z" fill="rgba(205,80,90,0.5)"/>
<rect x="1306" y="624" width="6" height="73" fill="#4343cc"/>
<rect x="1320" y="671" width="2" height="5" fill="rgba(80,80,190,0.55)"/>
<rect x="1320" y="699" width="2" height="39" fill="rgba(80,80,190,0.55)"/>
<path d="M1316 676h10v23h-10zM1318 678v19h6v-19z" fill="rgba(80,80,190,0.55)"/>
<rect x="1318" y="678" width="6" height="19" fill="#4343cc"/>
<rect x="1332" y="648" width="2" height="19" fill="rgba(80,80,190,0.55)"/>
<rect x="1332" y="675" width="2" height="19" fill="rgba(80,80,190,0.55)"/>
<path d="M1328 667h10v8h-10zM1330 669v4h6v-4z" fill="rgba(80,80,190,0.55)"/>
<rect x="1330" y="669" width="6" height="4" fill="#cdb54d"/>
<rect x="1344" y="656" width="2" height="4" fill="rgba(80,80,190,0.55)"/>
<rect x="1344" y="667" width="2" height="20" fill="rgba(80,80,190,0.55)"/>
<path d="M1340 660h10v7h-10zM1342 662v3h6v-3z" fill="rgba(80,80,190,0.55)"/>
<rect x="1342" y="662" width="6" height="3" fill="#cdb54d"/>
<rect x="1356" y="679" width="2" height="57" fill="rgba(205,80,90,0.5)"/>
<path d="M1352 660h10v19h-10zM1354 662v15h6v-15z" fill="rgba(205,80,90,0.5)"/>
<rect x="1354" y="662" width="6" height="15" fill="#cdb54d"/>
<rect x="1368" y="646" width="2" height="21" fill="rgba(80,80,190,0.55)"/>
<rect x="1368" y="679" width="2" height="33" fill="rgba(80,80,190,0.55)"/>
<path d="M1364 667h10v12h-10zM1366 669v8h6v-8z" fill="rgba(80,80,190,0.55)"/>
<rect x="1366" y="669" width="6" height="8" fill="#cdb54d"/>
<rect x="1380" y="632" width="2" height="35" fill="rgba(205,80,90,0.5)"/>
<rect x="1380" y="761" width="2" height="29" fill="rgba(205,80,90,0.5)"/>
<path d="M1376 667h10v94h-10zM1378 669v90h6v-90z" fill="rgba(205,80,90,0.5)"/>
<rect x="1378" y="669" width="6" height="90" fill="#cdb54d"/>
<rect x="1392" y="757" width="2" height="4" fill="rgba(205,80,90,0.5)"/>
<rect x="1392" y="773" width="2" height="28" fill="rgba(205,80,90,0.5)"/>
<path d="M1388 761h10v12h-10zM1390 763v8h6v-8z" fill="rgba(205,80,90,0.5)"/>
<rect x="1390" y="763" width="6" height="8" fill="#cdb54d"/>
<rect x="1404" y="731" width="2" height="13" fill="rgba(80,80,190,0.55)"/>
<rect x="1404" y="773" width="2" height="9" fill="rgba(80,80,190,0.55)"/>
<path d="M1400 744h10v29h-10zM1402 746v25h6v-25z" fill="rgba(80,80,190,0.55)"/>
<rect x="1402" y="746" width="6" height="25" fill="#cdb54d"/>
<rect x="1416" y="718" width="2" height="6" fill="rgba(80,80,190,0.55)"/>
<rect x="1416" y="744" width="2" height="6" fill="rgba(80,80,190,0.55)"/>
<path d="M1412 724h10v20h-10zM1414 726v16h6v-16z" fill="rgba(80,80,190,0.55)"/>
<rect x="1414" y="726" width="6" height="16" fill="#cdb54d"/>
<rect x="1428" y="750" width="2" height="20" fill="rgba(205,80,90,0.5)"/>
<path d="M1424 724h10v26h-10zM1426 726v22h6v-22z" fill="rgba(205,80,90,0.5)"/>
<rect x="1426" y="726" width="6" height="22" fill="#cdb54d"/>
<rect x="1440" y="728" width="2" height="22" fill="rgba(205,80,90,0.5)"/>
<rect x="1440" y="752" width="2" height="39" fill="rgba(205,80,90,0.5)"/>
<rect x="1436" y="750" width="10" height="2" fill="rgba(205,80,90,0.5)"/>
<rect x="1452" y="739" width="2" height="13" fill="rgba(205,80,90,0.5)"/>
<rect x="1452" y="793" width="2" height="10" fill="rgba(205,80,90,0.5)"/>
<path d="M1448 752h10v41h-10zM1450 754v37h6v-37z" fill="rgba(205,80,90,0.5)"/>
<rect x="1450" y="754" width="6" height="37" fill="#cd4066"/>
<rect x="1464" y="787" width="2" height="6" fill="rgba(205,80,90,0.5)"/>
<rect x="1464" y="842" width="2" height="18" fill="rgba(205,80,90,0.5)"/>
<path d="M1460 793h10v49h-10zM1462 795v45h6v-45z" fill="rgba(205,80,90,0.5)"/>
<rect x="1462" y="795" width="6" height="45" fill="#cd4066"/>
<rect x="1476" y="830" width="2" height="12" fill="rgba(205,80,90,0.5)"/>
<rect x="1476" y="844" width="2" height="12" fill="rgba(205,80,90,0.5)"/>
<rect x="1472" y="842" width="10" height="2" fill="rgba(205,80,90,0.5)"/>
<rect x="1488" y="836" width="2" height="8" fill="rgba(205,80,90,0.5)"/>
<rect x="1488" y="864" width="2" height="13" fill="rgba(205,80,90,0.5)"/>
<path d="M1484 844h10v20h-10zM1486 846v16h6v-16z" fill="rgba(205,80,90,0.5)"/>
<rect x="1486" y="846" width="6" height="16" fill="#cd4066"/>
<rect x="1500" y="774" width="2" height="8" fill="rgba(80,80,190,0.55)"/>
<rect x="1500" y="864" width="2" height="8" fill="rgba(80,80,190,0.55)"/>
<path d="M1496 782h10v82h-10zM1498 784v78h6v-78z" fill="rgba(80,80,190,0.55)"/>
<rect x="1498" y="784" width="6" height="78" fill="#cd4066"/>
<rect x="1512" y="764" width="2" height="18" fill="rgba(205,80,90,0.5)"/>
<rect x="1512" y="789" width="2" height="72" fill="rgba(205,80,90,0.5)"/>
<path d="M1508 782h10v7h-10zM1510 784v3h6v-3z" fill="rgba(205,80,90,0.5)"/>
<rect x="1510" y="784" width="6" height="3" fill="#cd4066"/>
<rect x="1524" y="721" width="2" height="22" fill="rgba(80,80,190,0.55)"/>
<rect x="1524" y="788" width="2" height="86" fill="rgba(80,80,190,0.55)"/>
<path d="M1520 743h10v45h-10zM1522 745v41h6v-41z" fill="rgba(80,80,190,0.55)"/>
<rect x="1522" y="745" width="6" height="41" fill="#cd4066"/>
<rect x="1536" y="778" width="2" height="10" fill="rgba(205,80,90,0.5)"/>
<path d="M1532 743h10v35h-10zM1534 745v31h6v-31z" fill="rgba(205,80,90,0.5)"/>
<rect x="1534" y="745" width="6" height="31" fill="#cd4066"/>
<rect x="1548" y="746" width="2" height="26" fill="rgba(80,80,190,0.55)"/>
<rect x="1548" y="778" width="2" height="23" fill="rgba(80,80,190,0.55)"/>
<path d="M1544 772h10v6h-10zM1546 774v2h6v-2z" fill="rgba(80,80,190,0.55)"/>
<rect x="1546" y="774" width="6" height="2" fill="#cd4066"/>
<rect x="1560" y="754" width="2" height="18" fill="rgba(205,80,90,0.5)"/>
<rect x="1560" y="778" width="2" height="4" fill="rgba(205,80,90,0.5)"/>
<path d="M1556 772h10v6h-10zM1558 774v2h6v-2z" fill="rgba(205,80,90,0.5)"/>
<rect x="1558" y="774" width="6" height="2" fill="#cd4066"/>
<rect x="1572" y="773" width="2" height="5" fill="rgba(205,80,90,0.5)"/>
<rect x="1572" y="848" width="2" height="5" fill="rgba(205,80,90,0.5)"/>
<path d="M1568 778h10v70h-10zM1570 780v66h6v-66z" fill="rgba(205,80,90,0.5)"/>
<rect x="1570" y="780" width="6" height="66" fill="#cd4066"/>
<rect x="1584" y="780" width="2" height="68" fill="rgba(205,80,90,0.5)"/>
<rect x="1584" y="874" width="2" height="77" fill="rgba(205,80,90,0.5)"/>
<path d="M1580 848h10v26h-10zM1582 850v22h6v-22z" fill="rgba(205,80,90,0.5)"/>
<rect x="1582" y="850" width="6" height="22" fill="#cd4066"/>
<rect x="1596" y="835" width="2" height="38" fill="rgba(205,80,90,0.5)"/>
<rect x="1596" y="875" width="2" height="97" fill="rgba(205,80,90,0.5)"/>
<rect x="1592" y="873" width="10" height="2" fill="rgba(205,80,90,0.5)"/>
<rect x="1608" y="850" width="2" height="21" fill="rgba(80,80,190,0.55)"/>
<rect x="1608" y="875" width="2" height="8" fill="rgba(80,80,190,0.55)"/>
<rect x="1604" y="871" width="10" height="4" fill="rgba(80,80,190,0.55)"/>
<rect x="1620" y="844" width="2" height="30" fill="rgba(80,80,190,0.55)"/>
<rect x="1620" y="901" width="2" height="16" fill="rgba(80,80,190,0.55)"/>
<path d="M1616 874h10v27h-10zM1618 876v23h6v-23z" fill="rgba(80,80,190,0.55)"/>
<rect x="1618" y="876" width="6" height="23" fill="#cd4066"/>
<rect x="1632" y="872" width="2" height="1" fill="rgba(205,80,90,0.5)"/>
<rect x="1632" y="883" width="2" height="15" fill="rgba(205,80,90,0.5)"/>
<path d="M1628 873h10v10h-10zM1630 875v6h6v-6z" fill="rgba(205,80,90,0.5)"/>
<rect x="1630" y="875" width="6" height="6" fill="#cd4066"/>
<rect x="1644" y="839" width="2" height="17" fill="rgba(80,80,190,0.55)"/>
<rect x="1644" y="883" width="2" height="15" fill="rgba(80,80,190,0.55)"/>
<path d="M1640 856h10v27h-10zM1642 858v23h6v-23z" fill="rgba(80,80,190,0.55)"/>
<rect x="1642" y="858" width="6" height="23" fill="#cd4066"/>
<rect x="1656" y="770" width="2" height="23" fill="rgba(80,80,190,0.55)"/>
<path d="M1652 793h10v63h-10zM1654 795v59h6v-59z" fill="rgba(80,80,190,0.55)"/>
<rect x="1654" y="795" width="6" height="59" fill="#cd4066"/>
<rect x="1668" y="791" width="2" height="2" fill="rgba(205,80,90,0.5)"/>
<path d="M1664 793h10v94h-10zM1666 795v90h6v-90z" fill="rgba(205,80,90,0.5)"/>
<rect x="1666" y="795" width="6" height="90" fill="#cd4066"/>
<rect x="1680" y="823" width="2" height="30" fill="rgba(80,80,190,0.55)"/>
<rect x="1680" y="887" width="2" height="3" fill="rgba(80,80,190,0.55)"/>
<path d="M1676 853h10v34h-10zM1678 855v30h6v-30z" fill="rgba(80,80,190,0.55)"/>
<rect x="1678" y="855" width="6" height="30" fill="#cd4066"/>
<rect x="1692" y="819" width="2" height="12" fill="rgba(80,80,190,0.55)"/>
<rect x="1692" y="853" width="2" height="19" fill="rgba(80,80,190,0.55)"/>
<path d="M1688 831h10v22h-10zM1690 833v18h6v-18z" fill="rgba(80,80,190,0.55)"/>
<rect x="1690" y="833" width="6" height="18" fill="#cd4066"/>
<rect x="1704" y="786" width="2" height="19" fill="rgba(80,80,190,0.55)"/>
<rect x="1704" y="831" width="2" height="3" fill="rgba(80,80,190,0.55)"/>
<path d="M1700 805h10v26h-10zM1702 807v22h6v-22z" fill="rgba(80,80,190,0.55)"/>
<rect x="1702" y="807" width="6" height="22" fill="#cd4066"/>
<rect x="1716" y="785" width="2" height="20" fill="rgba(205,80,90,0.5)"/>
<rect x="1716" y="829" width="2" height="52" fill="rgba(205,80,90,0.5)"/>
<path d="M1712 805h10v24h-10zM1714 807v20h6v-20z" fill="rgba(205,80,90,0.5)"/>
<rect x="1714" y="807" width="6" height="20" fill="#cd4066"/>
<rect x="1728" y="715" width="2" height="114" fill="rgba(205,80,90,0.5)"/>
<rect x="1728" y="880" width="2" height="7" fill="rgba(205,80,90,0.5)"/>
<path d="M1724 829h10v51h-10zM1726 831v47h6v-47z" fill="rgba(205,80,90,0.5)"/>
<rect x="1726" y="831" width="6" height="47" fill="#cd4066"/>
<rect x="1740" y="815" width="2" height="59" fill="rgba(80,80,190,0.55)"/>
<rect x="1740" y="880" width="2" height="65" fill="rgba(80,80,190,0.55)"/>
<path d="M1736 874h10v6h-10zM1738 876v2h6v-2z" fill="rgba(80,80,190,0.55)"/>
<rect x="1738" y="876" width="6" height="2" fill="#cd4066"/>
<rect x="1752" y="813" width="2" height="23" fill="rgba(80,80,190,0.55)"/>
<rect x="1752" y="874" width="2" height="6" fill="rgba(80,80,190,0.55)"/>
<path d="M1748 836h10v38h-10zM1750 838v34h6v-34z" fill="rgba(80,80,190,0.55)"/>
<rect x="1750" y="838" width="6" height="34" fill="#cd4066"/>
<rect x="1764" y="815" width="2" height="21" fill="rgba(205,80,90,0.5)"/>
<rect x="1764" y="844" width="2" height="28" fill="rgba(205,80,90,0.5)"/>
<path d="M1760 836h10v8h-10zM1762 838v4h6v-4z" fill="rgba(205,80,90,0.5)"/>
<rect x="1762" y="838" width="6" height="4" fill="#cd4066"/>
<rect x="1777" y="840" width="2" height="4" fill="rgba(205,80,90,0.5)"/>
<rect x="1777" y="847" width="2" height="21" fill="rgba(205,80,90,0.5)"/>
<rect x="1773" y="844" width="10" height="3" fill="rgba(205,80,90,0.5)"/>
<rect x="1789" y="844" width="2" height="4" fill="rgba(205,80,90,0.5)"/>
<rect x="1789" y="918" width="2" height="20" fill="rgba(205,80,90,0.5)"/>
<path d="M1785 848h10v70h-10zM1787 850v66h6v-66z" fill="rgba(205,80,90,0.5)"/>
<rect x="1787" y="850" width="6" height="66" fill="#cd4066"/>
<rect x="1801" y="866" width="2" height="23" fill="rgba(80,80,190,0.55)"/>
<rect x="1801" y="918" width="2" height="38" fill="rgba(80,80,190,0.55)"/>
<path d="M1797 889h10v29h-10zM1799 891v25h6v-25z" fill="rgba(80,80,190,0.55)"/>
<rect x="1799" y="891" width="6" height="25" fill="#cd4066"/>
<rect x="1813" y="869" width="2" height="20" fill="rgba(205,80,90,0.5)"/>
<rect x="1813" y="960" width="2" height="5" fill="rgba(205,80,90,0.5)"/>
<path d="M1809 889h10v71h-10zM1811 891v67h6v-67z" fill="rgba(205,80,90,0.5)"/>
<rect x="1811" y="891" width="6" height="67" fill="#cd4066"/>
<rect x="1825" y="671" width="2" height="41" fill="rgba(80,80,190,0.55)"/>
<rect x="1825" y="960" width="2" height="17" fill="rgba(80,80,190,0.55)"/>
<path d="M1821 712h10v248h-10zM1823 714v244h6v-244z" fill="rgba(80,80,190,0.55)"/>
<rect x="1823" y="714" width="6" height="244" fill="#cd4066"/>
<rect x="1837" y="655" width="2" height="4" fill="rgba(80,80,190,0.55)"/>
<rect x="1837" y="711" width="2" height="10" fill="rgba(80,80,190,0.55)"/>
<path d="M1833 659h10v52h-10zM1835 661v48h6v-48z" fill="rgba(80,80,190,0.55)"/>
<rect x="1835" y="661" width="6" height="48" fill="#cd4066"/>
<rect x="1849" y="630" width="2" height="29" fill="rgba(205,80,90,0.5)"/>
<rect x="1849" y="669" width="2" height="14" fill="rgba(205,80,90,0.5)"/>
<path d="M1845 659h10v10h-10zM1847 661v6h6v-6z" fill="rgba(205,80,90,0.5)"/>
<rect x="1847" y="661" width="6" height="6" fill="#cd4066"/>
<rect x="1861" y="588" width="2" height="8" fill="rgba(80,80,190,0.55)"/>
<rect x="1861" y="669" width="2" height="53" fill="rgba(80,80,190,0.55)"/>
<path d="M1857 596h10v73h-10zM1859 598v69h6v-69z" fill="rgba(80,80,190,0.55)"/>
<rect x="1859" y="598" width="6" height="69" fill="#cdb54d"/>
<rect x="1873" y="447" width="2" height="13" fill="rgba(80,80,190,0.55)"/>
<rect x="1873" y="596" width="2" height="35" fill="rgba(80,80,190,0.55)"/>
<path d="M1869 460h10v136h-10zM1871 462v132h6v-132z" fill="rgba(80,80,190,0.55)"/>
<rect x="1871" y="462" width="6" height="132" fill="#cdb54d"/>
<rect x="1885" y="308" width="2" height="23" fill="rgba(80,80,190,0.55)"/>
<rect x="1885" y="460" width="2" height="56" fill="rgba(80,80,190,0.55)"/>
<path d="M1881 331h10v129h-10zM1883 333v125h6v-125z" fill="rgba(80,80,190,0.55)"/>
<rect x="1883" y="333" width="6" height="125" fill="#cdb54d"/>
<rect x="1897" y="330" width="2" height="1" fill="rgba(205,80,90,0.5)"/>
<rect x="1897" y="372" width="2" height="40" fill="rgba(205,80,90,0.5)"/>
<path d="M1893 331h10v41h-10zM1895 333v37h6v-37z" fill="rgba(205,80,90,0.5)"/>
<rect x="1895" y="333" width="6" height="37" fill="#cdb54d"/>
<rect x="1909" y="359" width="2" height="13" fill="rgba(205,80,90,0.5)"/>
<rect x="1909" y="397" width="2" height="18" fill="rgba(205,80,90,0.5)"/>
<path d="M1905 372h10v25h-10zM1907 374v21h6v-21z" fill="rgba(205,80,90,0.5)"/>
<rect x="1907" y="374" width="6" height="21" fill="#4343cc"/>
<rect x="1921" y="354" width="2" height="35" fill="rgba(80,80,190,0.55)"/>
<path d="M1917 389h10v8h-10zM1919 391v4h6v-4z" fill="rgba(80,80,190,0.55)"/>
<rect x="1919" y="391" width="6" height="4" fill="#4343cc"/>
<rect x="1933" y="349" width="2" height="4" fill="rgba(80,80,190,0.55)"/>
<rect x="1933" y="388" width="2" height="43" fill="rgba(80,80,190,0.55)"/>
<path d="M1929 353h10v35h-10zM1931 355v31h6v-31z" fill="rgba(80,80,190,0.55)"/>
<rect x="1931" y="355" width="6" height="31" fill="#4343cc"/>
<rect x="1945" y="316" width="2" height="37" fill="rgba(205,80,90,0.5)"/>
<rect x="1945" y="498" width="2" height="26" fill="rgba(205,80,90,0.5)"/>
<path d="M1941 353h10v145h-10zM1943 355v141h6v-141z" fill="rgba(205,80,90,0.5)"/>
<rect x="1943" y="355" width="6" height="141" fill="#4343cc"/>
<rect x="1957" y="454" width="2" height="44" fill="rgba(205,80,90,0.5)"/>
<rect x="1957" y="510" width="2" height="46" fill="rgba(205,80,90,0.5)"/>
<path d="M1953 498h10v12h-10zM1955 500v8h6v-8z" fill="rgba(205,80,90,0.5)"/>
<rect x="1955" y="500" width="6" height="8" fill="#4343cc"/>
<rect x="1969" y="569" width="2" height="26" fill="rgba(205,80,90,0.5)"/>
<path d="M1965 510h10v59h-10zM1967 512v55h6v-55z" fill="rgba(205,80,90,0.5)"/>
<rect x="1967" y="512" width="6" height="55" fill="#4343cc"/>
<rect x="1981" y="559" width="2" height="5" fill="rgba(80,80,190,0.55)"/>
<rect x="1981" y="569" width="2" height="51" fill="rgba(80,80,190,0.55)"/>
<path d="M1977 564h10v5h-10zM1979 566v1h6v-1z" fill="rgba(80,80,190,0.55)"/>
<rect x="1979" y="566" width="6" height="1" fill="#4343cc"/>
<rect x="1993" y="523" width="2" height="15" fill="rgba(80,80,190,0.55)"/>
<path d="M1989 538h10v26h-10zM1991 540v22h6v-22z" fill="rgba(80,80,190,0.55)"/>
<rect x="1991" y="540" width="6" height="22" fill="#4343cc"/>
<rect x="2005" y="513" width="2" height="25" fill="rgba(205,80,90,0.5)"/>
<rect x="2005" y="597" width="2" height="3" fill="rgba(205,80,90,0.5)"/>
<path d="M2001 538h10v59h-10zM2003 540v55h6v-55z" fill="rgba(205,80,90,0.5)"/>
<rect x="2003" y="540" width="6" height="55" fill="#4343cc"/>
<rect x="2017" y="571" width="2" height="25" fill="rgba(80,80,190,0.55)"/>
<rect x="2017" y="598" width="2" height="48" fill="rgba(80,80,190,0.55)"/>
<rect x="2013" y="596" width="10" height="2" fill="rgba(80,80,190,0.55)"/>
<rect x="2029" y="589" width="2" height="8" fill="rgba(205,80,90,0.5)"/>
<rect x="2029" y="629" width="2" height="55" fill="rgba(205,80,90,0.5)"/>
<path d="M2025 597h10v32h-10zM2027 599v28h6v-28z" fill="rgba(205,80,90,0.5)"/>
<rect x="2027" y="599" width="6" height="28" fill="#4343cc"/>
<rect x="2041" y="642" width="2" height="31" fill="rgba(205,80,90,0.5)"/>
<path d="M2037 629h10v13h-10zM2039 631v9h6v-9z" fill="rgba(205,80,90,0.5)"/>
<rect x="2039" y="631" width="6" height="9" fill="#4343cc"/>
<rect x="2053" y="606" width="2" height="23" fill="rgba(80,80,190,0.55)"/>
<rect x="2053" y="642" width="2" height="33" fill="rgba(80,80,190,0.55)"/>
<path d="M2049 629h10v13h-10zM2051 631v9h6v-9z" fill="rgba(80,80,190,0.55)"/>
<rect x="2051" y="631" width="6" height="9" fill="#4343cc"/>
<rect x="2065" y="603" width="2" height="16" fill="rgba(80,80,190,0.55)"/>
<rect x="2065" y="629" width="2" height="7" fill="rgba(80,80,190,0.55)"/>
<path d="M2061 619h10v10h-10zM2063 621v6h6v-6z" fill="rgba(80,80,190,0.55)"/>
<rect x="2063" y="621" width="6" height="6" fill="#4343cc"/>
<rect x="2077" y="520" width="2" height="4" fill="rgba(80,80,190,0.55)"/>
<rect x="2077" y="618" width="2" height="15" fill="rgba(80,80,190,0.55)"/>
<path d="M2073 524h10v94h-10zM2075 526v90h6v-90z" fill="rgba(80,80,190,0.55)"/>
<rect x="2075" y="526" width="6" height="90" fill="#4343cc"/>
<rect x="2089" y="416" width="2" height="8" fill="rgba(80,80,190,0.55)"/>
<rect x="2089" y="524" width="2" height="13" fill="rgba(80,80,190,0.55)"/>
<path d="M2085 424h10v100h-10zM2087 426v96h6v-96z" fill="rgba(80,80,190,0.55)"/>
<rect x="2087" y="426" width="6" height="96" fill="#4343cc"/>
<rect x="2101" y="381" width="2" height="43" fill="rgba(205,80,90,0.5)"/>
<rect x="2101" y="441" width="2" height="22" fill="rgba(205,80,90,0.5)"/>
<path d="M2097 424h10v17h-10zM2099 426v13h6v-13z" fill="rgba(205,80,90,0.5)"/>
<rect x="2099" y="426" width="6" height="13" fill="#4343cc"/>
<rect x="2113" y="434" width="2" height="8" fill="rgba(205,80,90,0.5)"/>
<rect x="2113" y="450" width="2" height="36" fill="rgba(205,80,90,0.5)"/>
<path d="M2109 442h10v8h-10zM2111 444v4h6v-4z" fill="rgba(205,80,90,0.5)"/>
<rect x="2111" y="444" width="6" height="4" fill="#4343cc"/>
<rect x="2125" y="444" width="2" height="7" fill="rgba(205,80,90,0.5)"/>
<rect x="2125" y="478" width="2" height="8" fill="rgba(205,80,90,0.5)"/>
<path d="M2121 451h10v27h-10zM2123 453v23h6v-23z" fill="rgba(205,80,90,0.5)"/>
<rect x="2123" y="453" width="6" height="23" fill="#4343cc"/>
<rect x="2137" y="464" width="2" height="9" fill="rgba(80,80,190,0.55)"/>
<rect x="2137" y="478" width="2" height="5" fill="rgba(80,80,190,0.55)"/>
<path d="M2133 473h10v5h-10zM2135 475v1h6v-1z" fill="rgba(80,80,190,0.55)"/>
<rect x="2135" y="475" width="6" height="1" fill="#4343cc"/>
<rect x="2149" y="571" width="2" height="70" fill="rgba(205,80,90,0.5)"/>
<path d="M2145 473h10v98h-10zM2147 475v94h6v-94z" fill="rgba(205,80,90,0.5)"/>
<rect x="2147" y="475" width="6" height="94" fill="#4343cc"/>
<rect x="2161" y="568" width="2" height="3" fill="rgba(205,80,90,0.5)"/>
<rect x="2161" y="611" width="2" height="71" fill="rgba(205,80,90,0.5)"/>
<path d="M2157 571h10v40h-10zM2159 573v36h6v-36z" fill="rgba(205,80,90,0.5)"/>
<rect x="2159" y="573" width="6" height="36" fill="#4343cc"/>
<rect x="2173" y="564" width="2" height="27" fill="rgba(80,80,190,0.55)"/>
<rect x="2173" y="611" width="2" height="18" fill="rgba(80,80,190,0.55)"/>
<path d="M2169 591h10v20h-10zM2171 593v16h6v-16z" fill="rgba(80,80,190,0.55)"/>
<rect x="2171" y="593" width="6" height="16" fill="#4343cc"/>
<rect x="2185" y="582" width="2" height="9" fill="rgba(205,80,90,0.5)"/>
<rect x="2185" y="663" width="2" height="29" fill="rgba(205,80,90,0.5)"/>
<path d="M2181 591h10v72h-10zM2183 593v68h6v-68z" fill="rgba(205,80,90,0.5)"/>
<rect x="2183" y="593" width="6" height="68" fill="#4343cc"/>
<rect x="2197" y="635" width="2" height="20" fill="rgba(80,80,190,0.55)"/>
<rect x="2197" y="663" width="2" height="26" fill="rgba(80,80,190,0.55)"/>
<path d="M2193 655h10v8h-10zM2195 657v4h6v-4z" fill="rgba(80,80,190,0.55)"/>
<rect x="2195" y="657" width="6" height="4" fill="#4343cc"/>
<rect x="2209" y="633" width="2" height="4" fill="rgba(80,80,190,0.55)"/>
<rect x="2209" y="654" width="2" height="26" fill="rgba(80,80,190,0.55)"/>
<path d="M2205 637h10v17h-10zM2207 639v13h6v-13z" fill="rgba(80,80,190,0.55)"/>
<rect x="2207" y="639" width="6" height="13" fill="#4343cc"/>
<rect x="2221" y="678" width="2" height="43" fill="rgba(205,80,90,0.5)"/>
<path d="M2217 637h10v41h-10zM2219 639v37h6v-37z" fill="rgba(205,80,90,0.5)"/>
<rect x="2219" y="639" width="6" height="37" fill="#4343cc"/>
<rect x="2233" y="531" width="2" height="35" fill="rgba(80,80,190,0.55)"/>
<rect x="2233" y="678" width="2" height="22" fill="rgba(80,80,190,0.55)"/>
<path d="M2229 566h10v112h-10zM2231 568v108h6v-108z" fill="rgba(80,80,190,0.55)"/>
<rect x="2231" y="568" width="6" height="108" fill="#4343cc"/>
<rect x="2246" y="543" width="2" height="23" fill="rgba(205,80,90,0.5)"/>
<rect x="2246" y="604" width="2" height="48" fill="rgba(205,80,90,0.5)"/>
<path d="M2242 566h10v38h-10zM2244 568v34h6v-34z" fill="rgba(205,80,90,0.5)"/>
<rect x="2244" y="568" width="6" height="34" fill="#cdb54d"/>
<rect x="2258" y="539" width="2" height="8" fill="rgba(80,80,190,0.55)"/>
<rect x="2258" y="604" width="2" height="12" fill="rgba(80,80,190,0.55)"/>
<path d="M2254 547h10v57h-10zM2256 549v53h6v-53z" fill="rgba(80,80,190,0.55)"/>
<rect x="2256" y="549" width="6" height="53" fill="#cdb54d"/>
<rect x="2270" y="540" width="2" height="7" fill="rgba(205,80,90,0.5)"/>
<rect x="2270" y="566" width="2" height="17" fill="rgba(205,80,90,0.5)"/>
<path d="M2266 547h10v19h-10zM2268 549v15h6v-15z" fill="rgba(205,80,90,0.5)"/>
<rect x="2268" y="549" width="6" height="15" fill="#cdb54d"/>
<rect x="2282" y="541" width="2" height="14" fill="rgba(80,80,190,0.55)"/>
<rect x="2282" y="567" width="2" height="1" fill="rgba(80,80,190,0.55)"/>
<path d="M2278 555h10v12h-10zM2280 557v8h6v-8z" fill="rgba(80,80,190,0.55)"/>
<rect x="2280" y="557" width="6" height="8" fill="#cdb54d"/>
<rect x="2294" y="490" width="2" height="64" fill="rgba(80,80,190,0.55)"/>
<rect x="2294" y="556" width="2" height="10" fill="rgba(80,80,190,0.55)"/>
<rect x="2290" y="554" width="10" height="2" fill="rgba(80,80,190,0.55)"/>
<rect x="2306" y="423" width="2" height="21" fill="rgba(80,80,190,0.55)"/>
<path d="M2302 444h10v110h-10zM2304 446v106h6v-106z" fill="rgba(80,80,190,0.55)"/>
<rect x="2304" y="446" width="6" height="106" fill="#cdb54d"/>
<rect x="2318" y="421" width="2" height="23" fill="rgba(205,80,90,0.5)"/>
<rect x="2318" y="501" width="2" height="26" fill="rgba(205,80,90,0.5)"/>
<path d="M2314 444h10v57h-10zM2316 446v53h6v-53z" fill="rgba(205,80,90,0.5)"/>
<rect x="2316" y="446" width="6" height="53" fill="#cdb54d"/>
<rect x="2330" y="500" width="2" height="1" fill="rgba(205,80,90,0.5)"/>
<rect x="2330" y="533" width="2" height="11" fill="rgba(205,80,90,0.5)"/>
<path d="M2326 501h10v32h-10zM2328 503v28h6v-28z" fill="rgba(205,80,90,0.5)"/>
<rect x="2328" y="503" width="6" height="28" fill="#cdb54d"/>
<rect x="2342" y="499" width="2" height="11" fill="rgba(80,80,190,0.55)"/>
<path d="M2338 510h10v23h-10zM2340 512v19h6v-19z" fill="rgba(80,80,190,0.55)"/>
<rect x="2340" y="512" width="6" height="19" fill="#cdb54d"/>
<rect x="2354" y="505" width="2" height="5" fill="rgba(205,80,90,0.5)"/>
<rect x="2354" y="543" width="2" height="10" fill="rgba(205,80,90,0.5)"/>
<path d="M2350 510h10v33h-10zM2352 512v29h6v-29z" fill="rgba(205,80,90,0.5)"/>
<rect x="2352" y="512" width="6" height="29" fill="#cdb54d"/>
<rect x="2366" y="494" width="2" height="19" fill="rgba(80,80,190,0.55)"/>
<rect x="2366" y="543" width="2" height="14" fill="rgba(80,80,190,0.55)"/>
<path d="M2362 513h10v30h-10zM2364 515v26h6v-26z" fill="rgba(80,80,190,0.55)"/>
<rect x="2364" y="515" width="6" height="26" fill="#cdb54d"/>
<rect x="2378" y="476" width="2" height="31" fill="rgba(80,80,190,0.55)"/>
<rect x="2378" y="513" width="2" height="5" fill="rgba(80,80,190,0.55)"/>
<path d="M2374 507h10v6h-10zM2376 509v2h6v-2z" fill="rgba(80,80,190,0.55)"/>
<rect x="2376" y="509" width="6" height="2" fill="#cdb54d"/>
<rect x="2390" y="452" width="2" height="15" fill="rgba(80,80,190,0.55)"/>
<rect x="2390" y="507" width="2" height="3" fill="rgba(80,80,190,0.55)"/>
<path d="M2386 467h10v40h-10zM2388 469v36h6v-36z" fill="rgba(80,80,190,0.55)"/>
<rect x="2388" y="469" width="6" height="36" fill="#cdb54d"/>
<rect x="2402" y="453" width="2" height="12" fill="rgba(80,80,190,0.55)"/>
<rect x="2402" y="467" width="2" height="28" fill="rgba(80,80,190,0.55)"/>
<rect x="2398" y="465" width="10" height="2" fill="rgba(80,80,190,0.55)"/>
<rect x="2414" y="449" width="2" height="1" fill="rgba(80,80,190,0.55)"/>
<rect x="2414" y="465" width="2" height="12" fill="rgba(80,80,190,0.55)"/>
<path d="M2410 450h10v15h-10zM2412 452v11h6v-11z" fill="rgba(80,80,190,0.55)"/>
<rect x="2412" y="452" width="6" height="11" fill="#cdb54d"/>
<rect x="2426" y="442" width="2" height="8" fill="rgba(205,80,90,0.5)"/>
<rect x="2426" y="477" width="2" height="48" fill="rgba(205,80,90,0.5)"/>
<path d="M2422 450h10v27h-10zM2424 452v23h6v-23z" fill="rgba(205,80,90,0.5)"/>
<rect x="2424" y="452" width="6" height="23" fill="#cdb54d"/>
<rect x="2438" y="387" width="2" height="12" fill="rgba(80,80,190,0.55)"/>
<rect x="2438" y="476" width="2" height="23" fill="rgba(80,80,190,0.55)"/>
<path d="M2434 399h10v77h-10zM2436 401v73h6v-73z" fill="rgba(80,80,190,0.55)"/>
<rect x="2436" y="401" width="6" height="73" fill="#cdb54d"/>
<rect x="2450" y="289" width="2" height="30" fill="rgba(80,80,190,0.55)"/>
<rect x="2450" y="398" width="2" height="24" fill="rgba(80,80,190,0.55)"/>
<path d="M2446 319h10v79h-10zM2448 321v75h6v-75z" fill="rgba(80,80,190,0.55)"/>
<rect x="2448" y="321" width="6" height="75" fill="#4343cc"/>
<rect x="2462" y="290" width="2" height="9" fill="rgba(80,80,190,0.55)"/>
<rect x="2462" y="318" width="2" height="14" fill="rgba(80,80,190,0.55)"/>
<path d="M2458 299h10v19h-10zM2460 301v15h6v-15z" fill="rgba(80,80,190,0.55)"/>
<rect x="2460" y="301" width="6" height="15" fill="#4343cc"/>
<rect x="2474" y="263" width="2" height="3" fill="rgba(80,80,190,0.55)"/>
<rect x="2474" y="299" width="2" height="23" fill="rgba(80,80,190,0.55)"/>
<path d="M2470 266h10v33h-10zM2472 268v29h6v-29z" fill="rgba(80,80,190,0.55)"/>
<rect x="2472" y="268" width="6" height="29" fill="#4343cc"/>
<rect x="2486" y="257" width="2" height="9" fill="rgba(205,80,90,0.5)"/>
<rect x="2486" y="273" width="2" height="18" fill="rgba(205,80,90,0.5)"/>
<path d="M2482 266h10v7h-10zM2484 268v3h6v-3z" fill="rgba(205,80,90,0.5)"/>
<rect x="2484" y="268" width="6" height="3" fill="#4343cc"/>
<rect x="2498" y="232" width="2" height="42" fill="rgba(205,80,90,0.5)"/>
<rect x="2498" y="307" width="2" height="8" fill="rgba(205,80,90,0.5)"/>
<path d="M2494 274h10v33h-10zM2496 276v29h6v-29z" fill="rgba(205,80,90,0.5)"/>
<rect x="2496" y="276" width="6" height="29" fill="#4343cc"/>
<rect x="2510" y="282" width="2" height="26" fill="rgba(205,80,90,0.5)"/>
<rect x="2510" y="427" width="2" height="8" fill="rgba(205,80,90,0.5)"/>
<path d="M2506 308h10v119h-10zM2508 310v115h6v-115z" fill="rgba(205,80,90,0.5)"/>
<rect x="2508" y="310" width="6" height="115" fill="#4343cc"/>
<rect x="2522" y="351" width="2" height="76" fill="rgba(205,80,90,0.5)"/>
<rect x="2522" y="434" width="2" height="24" fill="rgba(205,80,90,0.5)"/>
<path d="M2518 427h10v7h-10zM2520 429v3h6v-3z" fill="rgba(205,80,90,0.5)"/>
<rect x="2520" y="429" width="6" height="3" fill="#4343cc"/>
<rect x="2534" y="431" width="2" height="3" fill="rgba(205,80,90,0.5)"/>
<rect x="2534" y="448" width="2" height="46" fill="rgba(205,80,90,0.5)"/>
<path d="M2530 434h10v14h-10zM2532 436v10h6v-10z" fill="rgba(205,80,90,0.5)"/>
<rect x="2532" y="436" width="6" height="10" fill="#4343cc"/>
<rect x="2546" y="415" width="2" height="25" fill="rgba(80,80,190,0.55)"/>
<rect x="2546" y="448" width="2" height="28" fill="rgba(80,80,190,0.55)"/>
<path d="M2542 440h10v8h-10zM2544 442v4h6v-4z" fill="rgba(80,80,190,0.55)"/>
<rect x="2544" y="442" width="6" height="4" fill="#4343cc"/>
<rect x="2558" y="377" width="2" height="3" fill="rgba(80,80,190,0.55)"/>
<rect x="2558" y="439" width="2" height="9" fill="rgba(80,80,190,0.55)"/>
<path d="M2554 380h10v59h-10zM2556 382v55h6v-55z" fill="rgba(80,80,190,0.55)"/>
<rect x="2556" y="382" width="6" height="55" fill="#4343cc"/>
<rect x="2570" y="356" width="2" height="24" fill="rgba(205,80,90,0.5)"/>
<rect x="2570" y="509" width="2" height="13" fill="rgba(205,80,90,0.5)"/>
<path d="M2566 380h10v129h-10zM2568 382v125h6v-125z" fill="rgba(205,80,90,0.5)"/>
<rect x="2568" y="382" width="6" height="125" fill="#4343cc"/>
<rect x="2582" y="409" width="2" height="67" fill="rgba(80,80,190,0.55)"/>
<rect x="2582" y="509" width="2" height="3" fill="rgba(80,80,190,0.55)"/>
<path d="M2578 476h10v33h-10zM2580 478v29h6v-29z" fill="rgba(80,80,190,0.55)"/>
<rect x="2580" y="478" width="6" height="29" fill="#4343cc"/>
<rect x="2594" y="370" width="2" height="12" fill="rgba(80,80,190,0.55)"/>
<rect x="2594" y="475" width="2" height="45" fill="rgba(80,80,190,0.55)"/>
<path d="M2590 382h10v93h-10zM2592 384v89h6v-89z" fill="rgba(80,80,190,0.55)"/>
<rect x="2592" y="384" width="6" height="89" fill="#4343cc"/>
<rect x="2606" y="380" width="2" height="2" fill="rgba(205,80,90,0.5)"/>
<rect x="2606" y="469" width="2" height="1" fill="rgba(205,80,90,0.5)"/>
<path d="M2602 382h10v87h-10zM2604 384v83h6v-83z" fill="rgba(205,80,90,0.5)"/>
<rect x="2604" y="384" width="6" height="83" fill="#4343cc"/>
<rect x="2618" y="428" width="2" height="11" fill="rgba(80,80,190,0.55)"/>
<rect x="2618" y="456" width="2" height="31" fill="rgba(80,80,190,0.55)"/>
<path d="M2614 439h10v17h-10zM2616 441v13h6v-13z" fill="rgba(80,80,190,0.55)"/>
<rect x="2616" y="441" width="6" height="13" fill="#4343cc"/>
<rect x="2630" y="386" width="2" height="53" fill="rgba(205,80,90,0.5)"/>
<path d="M2626 439h10v43h-10zM2628 441v39h6v-39z" fill="rgba(205,80,90,0.5)"/>
<rect x="2628" y="441" width="6" height="39" fill="#4343cc"/>
<rect x="2642" y="480" width="2" height="3" fill="rgba(205,80,90,0.5)"/>
<rect x="2642" y="682" width="2" height="20" fill="rgba(205,80,90,0.5)"/>
<path d="M2638 483h10v199h-10zM2640 485v195h6v-195z" fill="rgba(205,80,90,0.5)"/>
<rect x="2640" y="485" width="6" height="195" fill="#4343cc"/>
<rect x="2654" y="648" width="2" height="28" fill="rgba(80,80,190,0.55)"/>
<rect x="2654" y="682" width="2" height="43" fill="rgba(80,80,190,0.55)"/>
<path d="M2650 676h10v6h-10zM2652 678v2h6v-2z" fill="rgba(80,80,190,0.55)"/>
<rect x="2652" y="678" width="6" height="2" fill="#4343cc"/>
<rect x="2666" y="670" width="2" height="6" fill="rgba(205,80,90,0.5)"/>
<rect x="2666" y="721" width="2" height="5" fill="rgba(205,80,90,0.5)"/>
<path d="M2662 676h10v45h-10zM2664 678v41h6v-41z" fill="rgba(205,80,90,0.5)"/>
<rect x="2664" y="678" width="6" height="41" fill="#cdb54d"/>
<rect x="2678" y="673" width="2" height="12" fill="rgba(80,80,190,0.55)"/>
<path d="M2674 685h10v36h-10zM2676 687v32h6v-32z" fill="rgba(80,80,190,0.55)"/>
<rect x="2676" y="687" width="6" height="32" fill="#cdb54d"/>
<rect x="2690" y="655" width="2" height="25" fill="rgba(80,80,190,0.55)"/>
<rect x="2690" y="684" width="2" height="6" fill="rgba(80,80,190,0.55)"/>
<rect x="2686" y="680" width="10" height="4" fill="rgba(80,80,190,0.55)"/>
<rect x="2702" y="631" width="2" height="49" fill="rgba(205,80,90,0.5)"/>
<rect x="2702" y="686" width="2" height="8" fill="rgba(205,80,90,0.5)"/>
<path d="M2698 680h10v6h-10zM2700 682v2h6v-2z" fill="rgba(205,80,90,0.5)"/>
<rect x="2700" y="682" width="6" height="2" fill="#cdb54d"/>
<rect x="2715" y="651" width="2" height="32" fill="rgba(80,80,190,0.55)"/>
<rect x="2715" y="686" width="2" height="22" fill="rgba(80,80,190,0.55)"/>
<rect x="2711" y="683" width="10" height="3" fill="rgba(80,80,190,0.55)"/>
<rect x="2727" y="621" width="2" height="28" fill="rgba(80,80,190,0.55)"/>
<rect x="2727" y="682" width="2" height="33" fill="rgba(80,80,190,0.55)"/>
<path d="M2723 649h10v33h-10zM2725 651v29h6v-29z" fill="rgba(80,80,190,0.55)"/>
<rect x="2725" y="651" width="6" height="29" fill="#cd4066"/>
<rect x="2739" y="575" width="2" height="29" fill="rgba(80,80,190,0.55)"/>
<rect x="2739" y="648" width="2" height="32" fill="rgba(80,80,190,0.55)"/>
<path d="M2735 604h10v44h-10zM2737 606v40h6v-40z" fill="rgba(80,80,190,0.55)"/>
<rect x="2737" y="606" width="6" height="40" fill="#cd4066"/>
<rect x="2751" y="582" width="2" height="22" fill="rgba(205,80,90,0.5)"/>
<rect x="2751" y="608" width="2" height="13" fill="rgba(205,80,90,0.5)"/>
<rect x="2747" y="604" width="10" height="4" fill="rgba(205,80,90,0.5)"/>
<rect x="2763" y="577" width="2" height="24" fill="rgba(80,80,190,0.55)"/>
<rect x="2763" y="608" width="2" height="12" fill="rgba(80,80,190,0.55)"/>
<path d="M2759 601h10v7h-10zM2761 603v3h6v-3z" fill="rgba(80,80,190,0.55)"/>
<rect x="2761" y="603" width="6" height="3" fill="#cd4066"/>
<rect x="2775" y="466" width="2" height="11" fill="rgba(80,80,190,0.55)"/>
<path d="M2771 477h10v124h-10zM2773 479v120h6v-120z" fill="rgba(80,80,190,0.55)"/>
<rect x="2773" y="479" width="6" height="120" fill="#cd4066"/>
<rect x="2787" y="455" width="2" height="22" fill="rgba(205,80,90,0.5)"/>
<rect x="2787" y="583" width="2" height="6" fill="rgba(205,80,90,0.5)"/>
<path d="M2783 477h10v106h-10zM2785 479v102h6v-102z" fill="rgba(205,80,90,0.5)"/>
<rect x="2785" y="479" width="6" height="102" fill="#cd4066"/>
<rect x="2799" y="497" width="2" height="64" fill="rgba(80,80,190,0.55)"/>
<rect x="2799" y="583" width="2" height="20" fill="rgba(80,80,190,0.55)"/>
<path d="M2795 561h10v22h-10zM2797 563v18h6v-18z" fill="rgba(80,80,190,0.55)"/>
<rect x="2797" y="563" width="6" height="18" fill="#cd4066"/>
<rect x="2811" y="550" width="2" height="11" fill="rgba(205,80,90,0.5)"/>
<rect x="2811" y="564" width="2" height="17" fill="rgba(205,80,90,0.5)"/>
<rect x="2807" y="561" width="10" height="3" fill="rgba(205,80,90,0.5)"/>
<rect x="2823" y="532" width="2" height="6" fill="rgba(80,80,190,0.55)"/>
<rect x="2823" y="564" width="2" height="14" fill="rgba(80,80,190,0.55)"/>
<path d="M2819 538h10v26h-10zM2821 540v22h6v-22z" fill="rgba(80,80,190,0.55)"/>
<rect x="2821" y="540" width="6" height="22" fill="#cd4066"/>
<rect x="2835" y="530" width="2" height="8" fill="rgba(205,80,90,0.5)"/>
<path d="M2831 538h10v42h-10zM2833 540v38h6v-38z" fill="rgba(205,80,90,0.5)"/>
<rect x="2833" y="540" width="6" height="38" fill="#cd4066"/>
<rect x="2847" y="547" width="2" height="34" fill="rgba(205,80,90,0.5)"/>
<rect x="2847" y="613" width="2" height="7" fill="rgba(205,80,90,0.5)"/>
<path d="M2843 581h10v32h-10zM2845 583v28h6v-28z" fill="rgba(205,80,90,0.5)"/>
<rect x="2845" y="583" width="6" height="28" fill="#cd4066"/>
<rect x="2859" y="588" width="2" height="26" fill="rgba(205,80,90,0.5)"/>
<rect x="2859" y="619" width="2" height="105" fill="rgba(205,80,90,0.5)"/>
<path d="M2855 614h10v5h-10zM2857 616v1h6v-1z" fill="rgba(205,80,90,0.5)"/>
<rect x="2857" y="616" width="6" height="1" fill="#cd4066"/>
<rect x="2871" y="360" width="2" height="110" fill="rgba(80,80,190,0.55)"/>
<rect x="2871" y="619" width="2" height="5" fill="rgba(80,80,190,0.55)"/>
<path d="M2867 470h10v149h-10zM2869 472v145h6v-145z" fill="rgba(80,80,190,0.55)"/>
<rect x="2869" y="472" width="6" height="145" fill="#cd4066"/>
<rect x="2883" y="432" width="2" height="38" fill="rgba(205,80,90,0.5)"/>
<rect x="2883" y="486" width="2" height="13" fill="rgba(205,80,90,0.5)"/>
<path d="M2879 470h10v16h-10zM2881 472v12h6v-12z" fill="rgba(205,80,90,0.5)"/>
<rect x="2881" y="472" width="6" height="12" fill="#cd4066"/>
<rect x="2895" y="454" width="2" height="21" fill="rgba(80,80,190,0.55)"/>
<rect x="2895" y="486" width="2" height="17" fill="rgba(80,80,190,0.55)"/>
<path d="M2891 475h10v11h-10zM2893 477v7h6v-7z" fill="rgba(80,80,190,0.55)"/>
<rect x="2893" y="477" width="6" height="7" fill="#cd4066"/>
<rect x="2907" y="514" width="2" height="13" fill="rgba(205,80,90,0.5)"/>
<path d="M2903 474h10v40h-10zM2905 476v36h6v-36z" fill="rgba(205,80,90,0.5)"/>
<rect x="2905" y="476" width="6" height="36" fill="#cd4066"/>
<rect x="2919" y="476" width="2" height="38" fill="rgba(205,80,90,0.5)"/>
<rect x="2919" y="534" width="2" height="48" fill="rgba(205,80,90,0.5)"/>
<path d="M2915 514h10v20h-10zM2917 516v16h6v-16z" fill="rgba(205,80,90,0.5)"/>
<rect x="2917" y="516" width="6" height="16" fill="#cdb54d"/>
<rect x="2931" y="474" width="2" height="21" fill="rgba(80,80,190,0.55)"/>
<rect x="2931" y="534" width="2" height="4" fill="rgba(80,80,190,0.55)"/>
<path d="M2927 495h10v39h-10zM2929 497v35h6v-35z" fill="rgba(80,80,190,0.55)"/>
<rect x="2929" y="497" width="6" height="35" fill="#cdb54d"/>
<rect x="2943" y="370" width="2" height="28" fill="rgba(80,80,190,0.55)"/>
<rect x="2943" y="495" width="2" height="6" fill="rgba(80,80,190,0.55)"/>
<path d="M2939 398h10v97h-10zM2941 400v93h6v-93z" fill="rgba(80,80,190,0.55)"/>
<rect x="2941" y="400" width="6" height="93" fill="#cdb54d"/>
<rect x="2955" y="385" width="2" height="13" fill="rgba(205,80,90,0.5)"/>
<rect x="2955" y="414" width="2" height="16" fill="rgba(205,80,90,0.5)"/>
<path d="M2951 398h10v16h-10zM2953 400v12h6v-12z" fill="rgba(205,80,90,0.5)"/>
<rect x="2953" y="400" width="6" height="12" fill="#cdb54d"/>
<rect x="2967" y="383" width="2" height="3" fill="rgba(80,80,190,0.55)"/>
<rect x="2967" y="414" width="2" height="27" fill="rgba(80,80,190,0.55)"/>
<path d="M2963 386h10v28h-10zM2965 388v24h6v-24z" fill="rgba(80,80,190,0.55)"/>
<rect x="2965" y="388" width="6" height="24" fill="#cdb54d"/>
<rect x="2979" y="374" width="2" height="12" fill="rgba(205,80,90,0.5)"/>
<rect x="2979" y="423" width="2" height="12" fill="rgba(205,80,90,0.5)"/>
<path d="M2975 386h10v37h-10zM2977 388v33h6v-33z" fill="rgba(205,80,90,0.5)"/>
<rect x="2977" y="388" width="6" height="33" fill="#cdb54d"/>
<rect x="2991" y="407" width="2" height="16" fill="rgba(205,80,90,0.5)"/>
<rect x="2991" y="444" width="2" height="23" fill="rgba(205,80,90,0.5)"/>
<path d="M2987 423h10v21h-10zM2989 425v17h6v-17z" fill="rgba(205,80,90,0.5)"/>
<rect x="2989" y="425" width="6" height="17" fill="#cdb54d"/>
<rect x="3003" y="438" width="2" height="6" fill="rgba(205,80,90,0.5)"/>
<rect x="3003" y="464" width="2" height="40" fill="rgba(205,80,90,0.5)"/>
<path d="M2999 444h10v20h-10zM3001 446v16h6v-16z" fill="rgba(205,80,90,0.5)"/>
<rect x="3001" y="446" width="6" height="16" fill="#cdb54d"/>
<rect x="3015" y="450" width="2" height="14" fill="rgba(205,80,90,0.5)"/>
<rect x="3015" y="498" width="2" height="48" fill="rgba(205,80,90,0.5)"/>
<path d="M3011 464h10v34h-10zM3013 466v30h6v-30z" fill="rgba(205,80,90,0.5)"/>
<rect x="3013" y="466" width="6" height="30" fill="#cdb54d"/>
<rect x="3027" y="482" width="2" height="16" fill="rgba(205,80,90,0.5)"/>
<rect x="3027" y="502" width="2" height="38" fill="rgba(205,80,90,0.5)"/>
<rect x="3023" y="498" width="10" height="4" fill="rgba(205,80,90,0.5)"/>
<rect x="3039" y="481" width="2" height="16" fill="rgba(80,80,190,0.55)"/>
<rect x="3039" y="502" width="2" height="22" fill="rgba(80,80,190,0.55)"/>
<path d="M3035 497h10v5h-10zM3037 499v1h6v-1z" fill="rgba(80,80,190,0.55)"/>
<rect x="3037" y="499" width="6" height="1" fill="#cdb54d"/>
<rect x="3051" y="492" width="2" height="5" fill="rgba(205,80,90,0.5)"/>
<rect x="3051" y="518" width="2" height="11" fill="rgba(205,80,90,0.5)"/>
<path d="M3047 497h10v21h-10zM3049 499v17h6v-17z" fill="rgba(205,80,90,0.5)"/>
<rect x="3049" y="499" width="6" height="17" fill="#cdb54d"/>
<rect x="3063" y="457" width="2" height="8" fill="rgba(80,80,190,0.55)"/>
<rect x="3063" y="518" width="2" height="34" fill="rgba(80,80,190,0.55)"/>
<path d="M3059 465h10v53h-10zM3061 467v49h6v-49z" fill="rgba(80,80,190,0.55)"/>
<rect x="3061" y="467" width="6" height="49" fill="#cdb54d"/>
<rect x="3075" y="440" width="2" height="25" fill="rgba(205,80,90,0.5)"/>
<rect x="3075" y="468" width="2" height="13" fill="rgba(205,80,90,0.5)"/>
<rect x="3071" y="465" width="10" height="3" fill="rgba(205,80,90,0.5)"/>
<rect x="3087" y="429" width="2" height="17" fill="rgba(80,80,190,0.55)"/>
<rect x="3087" y="468" width="2" height="23" fill="rgba(80,80,190,0.55)"/>
<path d="M3083 446h10v22h-10zM3085 448v18h6v-18z" fill="rgba(80,80,190,0.55)"/>
<rect x="3085" y="448" width="6" height="18" fill="#cdb54d"/>
<rect x="3099" y="422" width="2" height="5" fill="rgba(80,80,190,0.55)"/>
<rect x="3099" y="446" width="2" height="13" fill="rgba(80,80,190,0.55)"/>
<path d="M3095 427h10v19h-10zM3097 429v15h6v-15z" fill="rgba(80,80,190,0.55)"/>
<rect x="3097" y="429" width="6" height="15" fill="#cdb54d"/>
<rect x="3111" y="382" width="2" height="4" fill="rgba(80,80,190,0.55)"/>
<rect x="3111" y="427" width="2" height="35" fill="rgba(80,80,190,0.55)"/>
<path d="M3107 386h10v41h-10zM3109 388v37h6v-37z" fill="rgba(80,80,190,0.55)"/>
<rect x="3109" y="388" width="6" height="37" fill="#cdb54d"/>
<rect x="3123" y="360" width="2" height="17" fill="rgba(80,80,190,0.55)"/>
<rect x="3123" y="386" width="2" height="3" fill="rgba(80,80,190,0.55)"/>
<path d="M3119 377h10v9h-10zM3121 379v5h6v-5z" fill="rgba(80,80,190,0.55)"/>
<rect x="3121" y="379" width="6" height="5" fill="#cdb54d"/>
</svg>
<div class="lg" style="top:72px">British Pound / U.S. Dollar · 4h · FXCM</div>
<div class="lg lg2" style="top:106px">[GYTS-Pro] Market Regime Detector</div>
<div class="pl" style="top:53px">1.29000</div><div class="pl" style="top:167px">1.28500</div><div class="pl" style="top:281px">1.28000</div><div class="pl" style="top:394px">1.27500</div><div class="pl" style="top:508px">1.27000</div><div class="pl" style="top:622px">1.26500</div><div class="pl" style="top:736px">1.26000</div><div class="pl" style="top:850px">1.25500</div><div class="pl" style="top:964px">1.25000</div><div class="pl" style="top:1077px">1.24500</div><div class="pl" style="top:1191px">1.24000</div><div class="pl" style="top:1305px">1.23500</div><div class="pl" style="top:1419px">1.23000</div><div class="pl" style="top:1533px">1.22500</div><div class="pl" style="top:1646px">1.22000</div><div class="pl" style="top:1760px">1.21500</div>
<div class="tl" style="left:-13px">9</div><div class="tl" style="left:119px">12</div><div class="tl" style="left:275px">15</div><div class="tl" style="left:420px">17</div><div class="tl" style="left:564px">21</div><div class="tl" style="left:708px">23</div><div class="tl" style="left:841px">26</div><div class="tl" style="left:997px">29</div><div class="tl" style="left:1141px">Dec</div><div class="tl" style="left:1286px">5</div><div class="tl" style="left:1430px">7</div><div class="tl" style="left:1562px">10</div><div class="tl" style="left:1719px">13</div><div class="tl" style="left:1863px">15</div><div class="tl" style="left:2007px">19</div><div class="tl" style="left:2151px">21</div><div class="tl" style="left:2284px">26</div><div class="tl" style="left:2428px">28</div><div class="tl b" style="left:2560px">2024</div><div class="tl" style="left:2705px">4</div><div class="tl" style="left:2837px">7</div><div class="tl" style="left:2993px">10</div>
<svg class="logo" width="39.5" height="19.5" viewBox="0 0 36 18.5" preserveAspectRatio="none"><path fill="#0a0c12" d="M14 18.5H7V7H0V0h14v18.5zM28 18.5h-8L27.5 0h8L28 18.5z"/><circle fill="#0a0c12" cx="20.2" cy="4.1" r="4.05"/></svg>
<div class="brand">TradingView</div>
</body></html>
